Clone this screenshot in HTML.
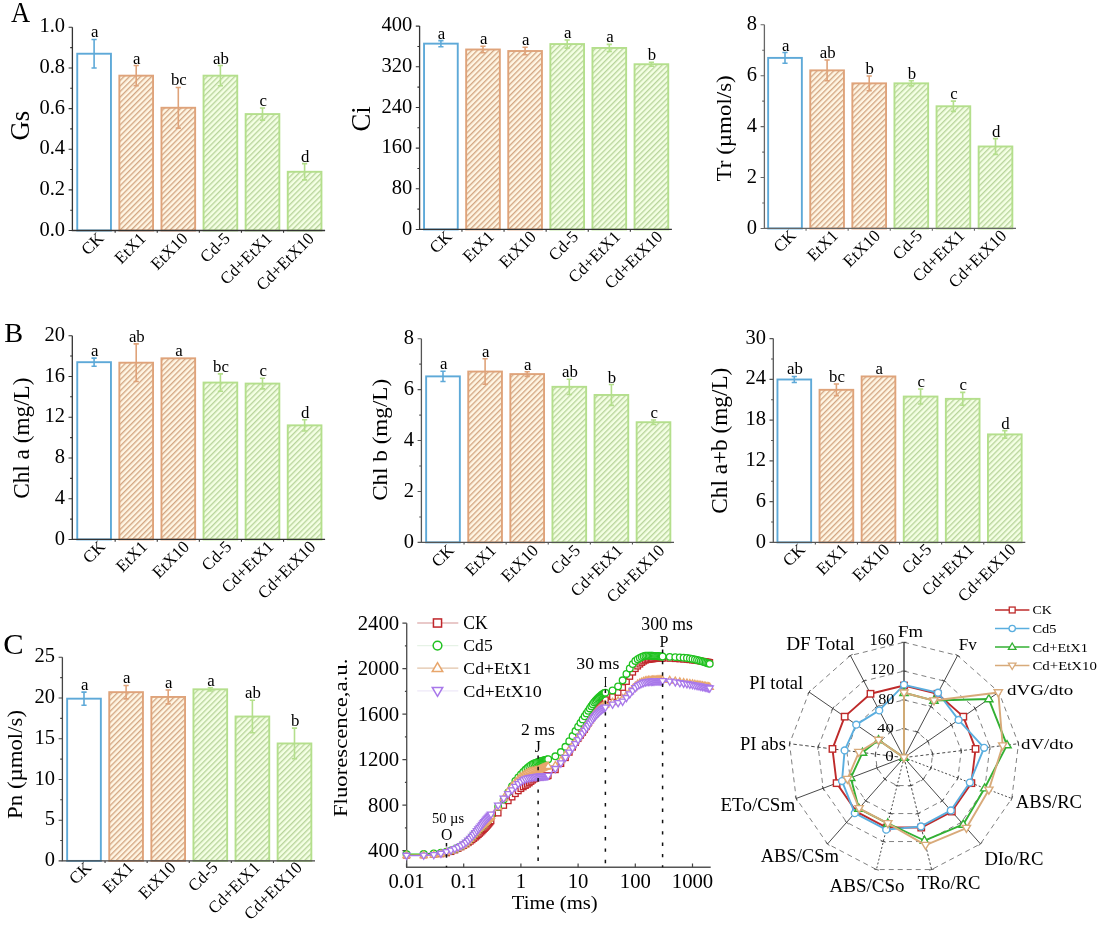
<!DOCTYPE html><html><head><meta charset="utf-8"><style>html,body{margin:0;padding:0;background:#fff;}svg{display:block;filter:blur(0.35px);}</style></head><body><svg width="1098" height="927" viewBox="0 0 1098 927" font-family="'Liberation Serif', serif">
<defs>
<pattern id="h_orange" patternUnits="userSpaceOnUse" width="3.92" height="10" patternTransform="rotate(45)"><rect x="0" y="0" width="1.35" height="10" fill="#D3A682"/></pattern>
<pattern id="h_green" patternUnits="userSpaceOnUse" width="3.92" height="10" patternTransform="rotate(45)"><rect x="0" y="0" width="1.35" height="10" fill="#B8D49B"/></pattern>
</defs>
<rect width="1098" height="927" fill="#fff"/>
<rect x="77.25" y="53.72" width="33.7" height="176.78" fill="none" stroke="#5EA9D8" stroke-width="1.9"/>
<path d="M94.1,39.49V67.94M91.5,39.49h5.2M91.5,67.94h5.2" stroke="#5EA9D8" stroke-width="1.6" fill="none"/>
<text transform="translate(94.7,37.49)" font-size="16.8" text-anchor="middle" fill="#000">a</text>
<text transform="translate(104.6,239.4) rotate(-45)" font-size="17" text-anchor="end" fill="#000">CK</text>
<rect x="119.35" y="75.66" width="33.7" height="154.84" fill="#FFF6E4"/>
<rect x="119.35" y="75.66" width="33.7" height="154.84" fill="url(#h_orange)"/>
<rect x="119.35" y="75.66" width="33.7" height="154.84" fill="none" stroke="#DFA37A" stroke-width="1.9"/>
<path d="M136.2,65.5V85.82M133.6,65.5h5.2M133.6,85.82h5.2" stroke="#DFA37A" stroke-width="1.6" fill="none"/>
<text transform="translate(136.8,63.5)" font-size="16.8" text-anchor="middle" fill="#000">a</text>
<text transform="translate(146.7,239.4) rotate(-45)" font-size="17" text-anchor="end" fill="#000">EtX1</text>
<rect x="161.45" y="107.77" width="33.7" height="122.73" fill="#FFF6E4"/>
<rect x="161.45" y="107.77" width="33.7" height="122.73" fill="url(#h_orange)"/>
<rect x="161.45" y="107.77" width="33.7" height="122.73" fill="none" stroke="#DFA37A" stroke-width="1.9"/>
<path d="M178.3,87.45V128.09M175.7,87.45h5.2M175.7,128.09h5.2" stroke="#DFA37A" stroke-width="1.6" fill="none"/>
<text transform="translate(178.9,85.45)" font-size="16.8" text-anchor="middle" fill="#000">bc</text>
<text transform="translate(188.8,239.4) rotate(-45)" font-size="17" text-anchor="end" fill="#000">EtX10</text>
<rect x="203.55" y="75.66" width="33.7" height="154.84" fill="#F4FFE4"/>
<rect x="203.55" y="75.66" width="33.7" height="154.84" fill="url(#h_green)"/>
<rect x="203.55" y="75.66" width="33.7" height="154.84" fill="none" stroke="#B4DF8C" stroke-width="1.9"/>
<path d="M220.4,65.5V85.82M217.8,65.5h5.2M217.8,85.82h5.2" stroke="#B4DF8C" stroke-width="1.6" fill="none"/>
<text transform="translate(221,63.5)" font-size="16.8" text-anchor="middle" fill="#000">ab</text>
<text transform="translate(230.9,239.4) rotate(-45)" font-size="17" text-anchor="end" fill="#000">Cd-5</text>
<rect x="245.65" y="114.07" width="33.7" height="116.43" fill="#F4FFE4"/>
<rect x="245.65" y="114.07" width="33.7" height="116.43" fill="url(#h_green)"/>
<rect x="245.65" y="114.07" width="33.7" height="116.43" fill="none" stroke="#B4DF8C" stroke-width="1.9"/>
<path d="M262.5,107.97V120.16M259.9,107.97h5.2M259.9,120.16h5.2" stroke="#B4DF8C" stroke-width="1.6" fill="none"/>
<text transform="translate(263.1,105.97)" font-size="16.8" text-anchor="middle" fill="#000">c</text>
<text transform="translate(273,239.4) rotate(-45)" font-size="17" text-anchor="end" fill="#000">Cd+EtX1</text>
<rect x="287.75" y="171.78" width="33.7" height="58.72" fill="#F4FFE4"/>
<rect x="287.75" y="171.78" width="33.7" height="58.72" fill="url(#h_green)"/>
<rect x="287.75" y="171.78" width="33.7" height="58.72" fill="none" stroke="#B4DF8C" stroke-width="1.9"/>
<path d="M304.6,163.65V179.9M302,163.65h5.2M302,179.9h5.2" stroke="#B4DF8C" stroke-width="1.6" fill="none"/>
<text transform="translate(305.2,161.65)" font-size="16.8" text-anchor="middle" fill="#000">d</text>
<text transform="translate(315.1,239.4) rotate(-45)" font-size="17" text-anchor="end" fill="#000">Cd+EtX10</text>
<path d="M72.4,27.3V230.5H325.1" stroke="#333" stroke-width="1.3" fill="none"/>
<text transform="translate(65,235.6)" font-size="20.5" text-anchor="end" fill="#000">0.0</text>
<text transform="translate(65,194.96)" font-size="20.5" text-anchor="end" fill="#000">0.2</text>
<text transform="translate(65,154.32)" font-size="20.5" text-anchor="end" fill="#000">0.4</text>
<text transform="translate(65,113.68)" font-size="20.5" text-anchor="end" fill="#000">0.6</text>
<text transform="translate(65,73.04)" font-size="20.5" text-anchor="end" fill="#000">0.8</text>
<text transform="translate(65,32.4)" font-size="20.5" text-anchor="end" fill="#000">1.0</text>
<path d="M68.6,230.5h3.8M70.2,210.18h2.2M68.6,189.86h3.8M70.2,169.54h2.2M68.6,149.22h3.8M70.2,128.9h2.2M68.6,108.58h3.8M70.2,88.26h2.2M68.6,67.94h3.8M70.2,47.62h2.2M68.6,27.3h3.8M115.15,230.5v2.2M157.25,230.5v2.2M199.35,230.5v2.2M241.45,230.5v2.2M283.55,230.5v2.2" stroke="#333" stroke-width="1.1" fill="none"/>
<rect x="424.05" y="43.64" width="33.7" height="185.81" fill="none" stroke="#5EA9D8" stroke-width="1.9"/>
<path d="M440.9,40.59V46.69M438.3,40.59h5.2M438.3,46.69h5.2" stroke="#5EA9D8" stroke-width="1.6" fill="none"/>
<text transform="translate(441.5,38.59)" font-size="16.8" text-anchor="middle" fill="#000">a</text>
<text transform="translate(452.9,237.65) rotate(-45)" font-size="17" text-anchor="end" fill="#000">CK</text>
<rect x="466.15" y="49.49" width="33.7" height="179.96" fill="#FFF6E4"/>
<rect x="466.15" y="49.49" width="33.7" height="179.96" fill="url(#h_orange)"/>
<rect x="466.15" y="49.49" width="33.7" height="179.96" fill="none" stroke="#DFA37A" stroke-width="1.9"/>
<path d="M483,46.18V52.79M480.4,46.18h5.2M480.4,52.79h5.2" stroke="#DFA37A" stroke-width="1.6" fill="none"/>
<text transform="translate(483.6,44.18)" font-size="16.8" text-anchor="middle" fill="#000">a</text>
<text transform="translate(495,237.65) rotate(-45)" font-size="17" text-anchor="end" fill="#000">EtX1</text>
<rect x="508.25" y="51.01" width="33.7" height="178.44" fill="#FFF6E4"/>
<rect x="508.25" y="51.01" width="33.7" height="178.44" fill="url(#h_orange)"/>
<rect x="508.25" y="51.01" width="33.7" height="178.44" fill="none" stroke="#DFA37A" stroke-width="1.9"/>
<path d="M525.1,47.2V54.82M522.5,47.2h5.2M522.5,54.82h5.2" stroke="#DFA37A" stroke-width="1.6" fill="none"/>
<text transform="translate(525.7,45.2)" font-size="16.8" text-anchor="middle" fill="#000">a</text>
<text transform="translate(537.1,237.65) rotate(-45)" font-size="17" text-anchor="end" fill="#000">EtX10</text>
<rect x="550.35" y="44.05" width="33.7" height="185.4" fill="#F4FFE4"/>
<rect x="550.35" y="44.05" width="33.7" height="185.4" fill="url(#h_green)"/>
<rect x="550.35" y="44.05" width="33.7" height="185.4" fill="none" stroke="#B4DF8C" stroke-width="1.9"/>
<path d="M567.2,39.98V48.11M564.6,39.98h5.2M564.6,48.11h5.2" stroke="#B4DF8C" stroke-width="1.6" fill="none"/>
<text transform="translate(567.8,37.98)" font-size="16.8" text-anchor="middle" fill="#000">a</text>
<text transform="translate(579.2,237.65) rotate(-45)" font-size="17" text-anchor="end" fill="#000">Cd-5</text>
<rect x="592.45" y="47.96" width="33.7" height="181.49" fill="#F4FFE4"/>
<rect x="592.45" y="47.96" width="33.7" height="181.49" fill="url(#h_green)"/>
<rect x="592.45" y="47.96" width="33.7" height="181.49" fill="none" stroke="#B4DF8C" stroke-width="1.9"/>
<path d="M609.3,44.4V51.52M606.7,44.4h5.2M606.7,51.52h5.2" stroke="#B4DF8C" stroke-width="1.6" fill="none"/>
<text transform="translate(609.9,42.4)" font-size="16.8" text-anchor="middle" fill="#000">a</text>
<text transform="translate(621.3,237.65) rotate(-45)" font-size="17" text-anchor="end" fill="#000">Cd+EtX1</text>
<rect x="634.55" y="64.23" width="33.7" height="165.22" fill="#F4FFE4"/>
<rect x="634.55" y="64.23" width="33.7" height="165.22" fill="url(#h_green)"/>
<rect x="634.55" y="64.23" width="33.7" height="165.22" fill="none" stroke="#B4DF8C" stroke-width="1.9"/>
<path d="M651.4,62.19V66.26M648.8,62.19h5.2M648.8,66.26h5.2" stroke="#B4DF8C" stroke-width="1.6" fill="none"/>
<text transform="translate(652,60.19)" font-size="16.8" text-anchor="middle" fill="#000">b</text>
<text transform="translate(663.4,237.65) rotate(-45)" font-size="17" text-anchor="end" fill="#000">Cd+EtX10</text>
<path d="M419.6,26.1V229.45H671.9" stroke="#333" stroke-width="1.3" fill="none"/>
<text transform="translate(412.2,234.55)" font-size="20.5" text-anchor="end" fill="#000">0</text>
<text transform="translate(412.2,193.88)" font-size="20.5" text-anchor="end" fill="#000">80</text>
<text transform="translate(412.2,153.21)" font-size="20.5" text-anchor="end" fill="#000">160</text>
<text transform="translate(412.2,112.54)" font-size="20.5" text-anchor="end" fill="#000">240</text>
<text transform="translate(412.2,71.87)" font-size="20.5" text-anchor="end" fill="#000">320</text>
<text transform="translate(412.2,31.2)" font-size="20.5" text-anchor="end" fill="#000">400</text>
<path d="M415.8,229.45h3.8M417.4,209.11h2.2M415.8,188.78h3.8M417.4,168.44h2.2M415.8,148.11h3.8M417.4,127.77h2.2M415.8,107.44h3.8M417.4,87.1h2.2M415.8,66.77h3.8M417.4,46.43h2.2M415.8,26.1h3.8M461.95,229.45v2.2M504.05,229.45v2.2M546.15,229.45v2.2M588.25,229.45v2.2M630.35,229.45v2.2" stroke="#333" stroke-width="1.1" fill="none"/>
<rect x="768.15" y="57.89" width="33.7" height="170.56" fill="none" stroke="#5EA9D8" stroke-width="1.9"/>
<path d="M785,52.55V63.24M782.4,52.55h5.2M782.4,63.24h5.2" stroke="#5EA9D8" stroke-width="1.6" fill="none"/>
<text transform="translate(785.6,50.55)" font-size="16.8" text-anchor="middle" fill="#000">a</text>
<text transform="translate(797,236.65) rotate(-45)" font-size="17" text-anchor="end" fill="#000">CK</text>
<rect x="810.25" y="70.37" width="33.7" height="158.08" fill="#FFF6E4"/>
<rect x="810.25" y="70.37" width="33.7" height="158.08" fill="url(#h_orange)"/>
<rect x="810.25" y="70.37" width="33.7" height="158.08" fill="none" stroke="#DFA37A" stroke-width="1.9"/>
<path d="M827.1,59.93V80.8M824.5,59.93h5.2M824.5,80.8h5.2" stroke="#DFA37A" stroke-width="1.6" fill="none"/>
<text transform="translate(827.7,57.93)" font-size="16.8" text-anchor="middle" fill="#000">ab</text>
<text transform="translate(839.1,236.65) rotate(-45)" font-size="17" text-anchor="end" fill="#000">EtX1</text>
<rect x="852.35" y="83.35" width="33.7" height="145.1" fill="#FFF6E4"/>
<rect x="852.35" y="83.35" width="33.7" height="145.1" fill="url(#h_orange)"/>
<rect x="852.35" y="83.35" width="33.7" height="145.1" fill="none" stroke="#DFA37A" stroke-width="1.9"/>
<path d="M869.2,75.97V90.73M866.6,75.97h5.2M866.6,90.73h5.2" stroke="#DFA37A" stroke-width="1.6" fill="none"/>
<text transform="translate(869.8,73.97)" font-size="16.8" text-anchor="middle" fill="#000">b</text>
<text transform="translate(881.2,236.65) rotate(-45)" font-size="17" text-anchor="end" fill="#000">EtX10</text>
<rect x="894.45" y="83.35" width="33.7" height="145.1" fill="#F4FFE4"/>
<rect x="894.45" y="83.35" width="33.7" height="145.1" fill="url(#h_green)"/>
<rect x="894.45" y="83.35" width="33.7" height="145.1" fill="none" stroke="#B4DF8C" stroke-width="1.9"/>
<path d="M911.3,80.8V85.89M908.7,80.8h5.2M908.7,85.89h5.2" stroke="#B4DF8C" stroke-width="1.6" fill="none"/>
<text transform="translate(911.9,78.8)" font-size="16.8" text-anchor="middle" fill="#000">b</text>
<text transform="translate(923.3,236.65) rotate(-45)" font-size="17" text-anchor="end" fill="#000">Cd-5</text>
<rect x="936.55" y="106.26" width="33.7" height="122.19" fill="#F4FFE4"/>
<rect x="936.55" y="106.26" width="33.7" height="122.19" fill="url(#h_green)"/>
<rect x="936.55" y="106.26" width="33.7" height="122.19" fill="none" stroke="#B4DF8C" stroke-width="1.9"/>
<path d="M953.4,101.17V111.35M950.8,101.17h5.2M950.8,111.35h5.2" stroke="#B4DF8C" stroke-width="1.6" fill="none"/>
<text transform="translate(954,99.17)" font-size="16.8" text-anchor="middle" fill="#000">c</text>
<text transform="translate(965.4,236.65) rotate(-45)" font-size="17" text-anchor="end" fill="#000">Cd+EtX1</text>
<rect x="978.65" y="146.48" width="33.7" height="81.97" fill="#F4FFE4"/>
<rect x="978.65" y="146.48" width="33.7" height="81.97" fill="url(#h_green)"/>
<rect x="978.65" y="146.48" width="33.7" height="81.97" fill="none" stroke="#B4DF8C" stroke-width="1.9"/>
<path d="M995.5,138.59V154.37M992.9,138.59h5.2M992.9,154.37h5.2" stroke="#B4DF8C" stroke-width="1.6" fill="none"/>
<text transform="translate(996.1,136.59)" font-size="16.8" text-anchor="middle" fill="#000">d</text>
<text transform="translate(1007.5,236.65) rotate(-45)" font-size="17" text-anchor="end" fill="#000">Cd+EtX10</text>
<path d="M764.4,24.8V228.45H1016" stroke="#666" stroke-width="1.3" fill="none"/>
<text transform="translate(757,233.55)" font-size="20.5" text-anchor="end" fill="#000">0</text>
<text transform="translate(757,182.64)" font-size="20.5" text-anchor="end" fill="#000">2</text>
<text transform="translate(757,131.72)" font-size="20.5" text-anchor="end" fill="#000">4</text>
<text transform="translate(757,80.81)" font-size="20.5" text-anchor="end" fill="#000">6</text>
<text transform="translate(757,29.9)" font-size="20.5" text-anchor="end" fill="#000">8</text>
<path d="M760.6,228.45h3.8M762.2,202.99h2.2M760.6,177.54h3.8M762.2,152.08h2.2M760.6,126.62h3.8M762.2,101.17h2.2M760.6,75.71h3.8M762.2,50.26h2.2M760.6,24.8h3.8M806.05,228.45v2.2M848.15,228.45v2.2M890.25,228.45v2.2M932.35,228.45v2.2M974.45,228.45v2.2" stroke="#666" stroke-width="1.1" fill="none"/>
<rect x="77.25" y="362.19" width="33.7" height="177.26" fill="none" stroke="#5EA9D8" stroke-width="1.9"/>
<path d="M94.1,358.11V366.26M91.5,358.11h5.2M91.5,366.26h5.2" stroke="#5EA9D8" stroke-width="1.6" fill="none"/>
<text transform="translate(94.7,356.11)" font-size="16.8" text-anchor="middle" fill="#000">a</text>
<text transform="translate(106.1,547.65) rotate(-45)" font-size="17" text-anchor="end" fill="#000">CK</text>
<rect x="119.35" y="362.7" width="33.7" height="176.75" fill="#FFF6E4"/>
<rect x="119.35" y="362.7" width="33.7" height="176.75" fill="url(#h_orange)"/>
<rect x="119.35" y="362.7" width="33.7" height="176.75" fill="none" stroke="#DFA37A" stroke-width="1.9"/>
<path d="M136.2,343.85V381.54M133.6,343.85h5.2M133.6,381.54h5.2" stroke="#DFA37A" stroke-width="1.6" fill="none"/>
<text transform="translate(136.8,341.85)" font-size="16.8" text-anchor="middle" fill="#000">ab</text>
<text transform="translate(148.2,547.65) rotate(-45)" font-size="17" text-anchor="end" fill="#000">EtX1</text>
<rect x="161.45" y="358.32" width="33.7" height="181.13" fill="#FFF6E4"/>
<rect x="161.45" y="358.32" width="33.7" height="181.13" fill="url(#h_orange)"/>
<rect x="161.45" y="358.32" width="33.7" height="181.13" fill="none" stroke="#DFA37A" stroke-width="1.9"/>
<text transform="translate(178.9,356.32)" font-size="16.8" text-anchor="middle" fill="#000">a</text>
<text transform="translate(190.3,547.65) rotate(-45)" font-size="17" text-anchor="end" fill="#000">EtX10</text>
<rect x="203.55" y="382.56" width="33.7" height="156.89" fill="#F4FFE4"/>
<rect x="203.55" y="382.56" width="33.7" height="156.89" fill="url(#h_green)"/>
<rect x="203.55" y="382.56" width="33.7" height="156.89" fill="none" stroke="#B4DF8C" stroke-width="1.9"/>
<path d="M220.4,373.9V391.22M217.8,373.9h5.2M217.8,391.22h5.2" stroke="#B4DF8C" stroke-width="1.6" fill="none"/>
<text transform="translate(221,371.9)" font-size="16.8" text-anchor="middle" fill="#000">bc</text>
<text transform="translate(232.4,547.65) rotate(-45)" font-size="17" text-anchor="end" fill="#000">Cd-5</text>
<rect x="245.65" y="383.58" width="33.7" height="155.87" fill="#F4FFE4"/>
<rect x="245.65" y="383.58" width="33.7" height="155.87" fill="url(#h_green)"/>
<rect x="245.65" y="383.58" width="33.7" height="155.87" fill="none" stroke="#B4DF8C" stroke-width="1.9"/>
<path d="M262.5,378.28V388.88M259.9,378.28h5.2M259.9,388.88h5.2" stroke="#B4DF8C" stroke-width="1.6" fill="none"/>
<text transform="translate(263.1,376.28)" font-size="16.8" text-anchor="middle" fill="#000">c</text>
<text transform="translate(274.5,547.65) rotate(-45)" font-size="17" text-anchor="end" fill="#000">Cd+EtX1</text>
<rect x="287.75" y="425.35" width="33.7" height="114.1" fill="#F4FFE4"/>
<rect x="287.75" y="425.35" width="33.7" height="114.1" fill="url(#h_green)"/>
<rect x="287.75" y="425.35" width="33.7" height="114.1" fill="none" stroke="#B4DF8C" stroke-width="1.9"/>
<path d="M304.6,419.75V430.95M302,419.75h5.2M302,430.95h5.2" stroke="#B4DF8C" stroke-width="1.6" fill="none"/>
<text transform="translate(305.2,417.75)" font-size="16.8" text-anchor="middle" fill="#000">d</text>
<text transform="translate(316.6,547.65) rotate(-45)" font-size="17" text-anchor="end" fill="#000">Cd+EtX10</text>
<path d="M72.3,335.7V539.45H325.1" stroke="#333" stroke-width="1.3" fill="none"/>
<text transform="translate(64.9,544.55)" font-size="20.5" text-anchor="end" fill="#000">0</text>
<text transform="translate(64.9,503.8)" font-size="20.5" text-anchor="end" fill="#000">4</text>
<text transform="translate(64.9,463.05)" font-size="20.5" text-anchor="end" fill="#000">8</text>
<text transform="translate(64.9,422.3)" font-size="20.5" text-anchor="end" fill="#000">12</text>
<text transform="translate(64.9,381.55)" font-size="20.5" text-anchor="end" fill="#000">16</text>
<text transform="translate(64.9,340.8)" font-size="20.5" text-anchor="end" fill="#000">20</text>
<path d="M68.5,539.45h3.8M70.1,519.08h2.2M68.5,498.7h3.8M70.1,478.33h2.2M68.5,457.95h3.8M70.1,437.58h2.2M68.5,417.2h3.8M70.1,396.82h2.2M68.5,376.45h3.8M70.1,356.07h2.2M68.5,335.7h3.8M115.15,539.45v2.2M157.25,539.45v2.2M199.35,539.45v2.2M241.45,539.45v2.2M283.55,539.45v2.2" stroke="#333" stroke-width="1.1" fill="none"/>
<rect x="426.15" y="376.38" width="33.7" height="166.02" fill="none" stroke="#5EA9D8" stroke-width="1.9"/>
<path d="M443,371.29V381.48M440.4,371.29h5.2M440.4,381.48h5.2" stroke="#5EA9D8" stroke-width="1.6" fill="none"/>
<text transform="translate(443.6,369.29)" font-size="16.8" text-anchor="middle" fill="#000">a</text>
<text transform="translate(455,551.4) rotate(-45)" font-size="17" text-anchor="end" fill="#000">CK</text>
<rect x="468.25" y="371.55" width="33.7" height="170.85" fill="#FFF6E4"/>
<rect x="468.25" y="371.55" width="33.7" height="170.85" fill="url(#h_orange)"/>
<rect x="468.25" y="371.55" width="33.7" height="170.85" fill="none" stroke="#DFA37A" stroke-width="1.9"/>
<path d="M485.1,358.82V384.28M482.5,358.82h5.2M482.5,384.28h5.2" stroke="#DFA37A" stroke-width="1.6" fill="none"/>
<text transform="translate(485.7,356.82)" font-size="16.8" text-anchor="middle" fill="#000">a</text>
<text transform="translate(497.1,551.4) rotate(-45)" font-size="17" text-anchor="end" fill="#000">EtX1</text>
<rect x="510.35" y="374.09" width="33.7" height="168.31" fill="#FFF6E4"/>
<rect x="510.35" y="374.09" width="33.7" height="168.31" fill="url(#h_orange)"/>
<rect x="510.35" y="374.09" width="33.7" height="168.31" fill="none" stroke="#DFA37A" stroke-width="1.9"/>
<path d="M527.2,371.8V376.38M524.6,371.8h5.2M524.6,376.38h5.2" stroke="#DFA37A" stroke-width="1.6" fill="none"/>
<text transform="translate(527.8,369.8)" font-size="16.8" text-anchor="middle" fill="#000">a</text>
<text transform="translate(539.2,551.4) rotate(-45)" font-size="17" text-anchor="end" fill="#000">EtX10</text>
<rect x="552.45" y="386.82" width="33.7" height="155.58" fill="#F4FFE4"/>
<rect x="552.45" y="386.82" width="33.7" height="155.58" fill="url(#h_green)"/>
<rect x="552.45" y="386.82" width="33.7" height="155.58" fill="none" stroke="#B4DF8C" stroke-width="1.9"/>
<path d="M569.3,379.19V394.46M566.7,379.19h5.2M566.7,394.46h5.2" stroke="#B4DF8C" stroke-width="1.6" fill="none"/>
<text transform="translate(569.9,377.19)" font-size="16.8" text-anchor="middle" fill="#000">ab</text>
<text transform="translate(581.3,551.4) rotate(-45)" font-size="17" text-anchor="end" fill="#000">Cd-5</text>
<rect x="594.55" y="394.97" width="33.7" height="147.43" fill="#F4FFE4"/>
<rect x="594.55" y="394.97" width="33.7" height="147.43" fill="url(#h_green)"/>
<rect x="594.55" y="394.97" width="33.7" height="147.43" fill="none" stroke="#B4DF8C" stroke-width="1.9"/>
<path d="M611.4,384.53V405.41M608.8,384.53h5.2M608.8,405.41h5.2" stroke="#B4DF8C" stroke-width="1.6" fill="none"/>
<text transform="translate(612,382.53)" font-size="16.8" text-anchor="middle" fill="#000">b</text>
<text transform="translate(623.4,551.4) rotate(-45)" font-size="17" text-anchor="end" fill="#000">Cd+EtX1</text>
<rect x="636.65" y="422.22" width="33.7" height="120.18" fill="#F4FFE4"/>
<rect x="636.65" y="422.22" width="33.7" height="120.18" fill="url(#h_green)"/>
<rect x="636.65" y="422.22" width="33.7" height="120.18" fill="none" stroke="#B4DF8C" stroke-width="1.9"/>
<path d="M653.5,419.93V424.51M650.9,419.93h5.2M650.9,424.51h5.2" stroke="#B4DF8C" stroke-width="1.6" fill="none"/>
<text transform="translate(654.1,417.93)" font-size="16.8" text-anchor="middle" fill="#000">c</text>
<text transform="translate(665.5,551.4) rotate(-45)" font-size="17" text-anchor="end" fill="#000">Cd+EtX10</text>
<path d="M421.4,338.7V542.4H674" stroke="#555" stroke-width="1.3" fill="none"/>
<text transform="translate(414,547.5)" font-size="20.5" text-anchor="end" fill="#000">0</text>
<text transform="translate(414,496.57)" font-size="20.5" text-anchor="end" fill="#000">2</text>
<text transform="translate(414,445.65)" font-size="20.5" text-anchor="end" fill="#000">4</text>
<text transform="translate(414,394.73)" font-size="20.5" text-anchor="end" fill="#000">6</text>
<text transform="translate(414,343.8)" font-size="20.5" text-anchor="end" fill="#000">8</text>
<path d="M417.6,542.4h3.8M419.2,516.94h2.2M417.6,491.47h3.8M419.2,466.01h2.2M417.6,440.55h3.8M419.2,415.09h2.2M417.6,389.62h3.8M419.2,364.16h2.2M417.6,338.7h3.8M464.05,542.4v2.2M506.15,542.4v2.2M548.25,542.4v2.2M590.35,542.4v2.2M632.45,542.4v2.2" stroke="#555" stroke-width="1.1" fill="none"/>
<rect x="777.45" y="379.5" width="33.7" height="162.9" fill="none" stroke="#5EA9D8" stroke-width="1.9"/>
<path d="M794.3,376.44V382.55M791.7,376.44h5.2M791.7,382.55h5.2" stroke="#5EA9D8" stroke-width="1.6" fill="none"/>
<text transform="translate(794.9,374.44)" font-size="16.8" text-anchor="middle" fill="#000">ab</text>
<text transform="translate(806.3,550.6) rotate(-45)" font-size="17" text-anchor="end" fill="#000">CK</text>
<rect x="819.55" y="389.82" width="33.7" height="152.58" fill="#FFF6E4"/>
<rect x="819.55" y="389.82" width="33.7" height="152.58" fill="url(#h_orange)"/>
<rect x="819.55" y="389.82" width="33.7" height="152.58" fill="none" stroke="#DFA37A" stroke-width="1.9"/>
<path d="M836.4,384.05V395.6M833.8,384.05h5.2M833.8,395.6h5.2" stroke="#DFA37A" stroke-width="1.6" fill="none"/>
<text transform="translate(837,382.05)" font-size="16.8" text-anchor="middle" fill="#000">bc</text>
<text transform="translate(848.4,550.6) rotate(-45)" font-size="17" text-anchor="end" fill="#000">EtX1</text>
<rect x="861.65" y="376.44" width="33.7" height="165.96" fill="#FFF6E4"/>
<rect x="861.65" y="376.44" width="33.7" height="165.96" fill="url(#h_orange)"/>
<rect x="861.65" y="376.44" width="33.7" height="165.96" fill="none" stroke="#DFA37A" stroke-width="1.9"/>
<text transform="translate(879.1,374.44)" font-size="16.8" text-anchor="middle" fill="#000">a</text>
<text transform="translate(890.5,550.6) rotate(-45)" font-size="17" text-anchor="end" fill="#000">EtX10</text>
<rect x="903.75" y="396.55" width="33.7" height="145.85" fill="#F4FFE4"/>
<rect x="903.75" y="396.55" width="33.7" height="145.85" fill="url(#h_green)"/>
<rect x="903.75" y="396.55" width="33.7" height="145.85" fill="none" stroke="#B4DF8C" stroke-width="1.9"/>
<path d="M920.6,389.07V404.02M918,389.07h5.2M918,404.02h5.2" stroke="#B4DF8C" stroke-width="1.6" fill="none"/>
<text transform="translate(921.2,387.07)" font-size="16.8" text-anchor="middle" fill="#000">c</text>
<text transform="translate(932.6,550.6) rotate(-45)" font-size="17" text-anchor="end" fill="#000">Cd-5</text>
<rect x="945.85" y="398.86" width="33.7" height="143.54" fill="#F4FFE4"/>
<rect x="945.85" y="398.86" width="33.7" height="143.54" fill="url(#h_green)"/>
<rect x="945.85" y="398.86" width="33.7" height="143.54" fill="none" stroke="#B4DF8C" stroke-width="1.9"/>
<path d="M962.7,392.4V405.31M960.1,392.4h5.2M960.1,405.31h5.2" stroke="#B4DF8C" stroke-width="1.6" fill="none"/>
<text transform="translate(963.3,390.4)" font-size="16.8" text-anchor="middle" fill="#000">c</text>
<text transform="translate(974.7,550.6) rotate(-45)" font-size="17" text-anchor="end" fill="#000">Cd+EtX1</text>
<rect x="987.95" y="434.39" width="33.7" height="108.01" fill="#F4FFE4"/>
<rect x="987.95" y="434.39" width="33.7" height="108.01" fill="url(#h_green)"/>
<rect x="987.95" y="434.39" width="33.7" height="108.01" fill="none" stroke="#B4DF8C" stroke-width="1.9"/>
<path d="M1004.8,430.65V438.12M1002.2,430.65h5.2M1002.2,438.12h5.2" stroke="#B4DF8C" stroke-width="1.6" fill="none"/>
<text transform="translate(1005.4,428.65)" font-size="16.8" text-anchor="middle" fill="#000">d</text>
<text transform="translate(1016.8,550.6) rotate(-45)" font-size="17" text-anchor="end" fill="#000">Cd+EtX10</text>
<path d="M773.3,338.6V542.4H1025.3" stroke="#555" stroke-width="1.3" fill="none"/>
<text transform="translate(765.9,547.5)" font-size="20.5" text-anchor="end" fill="#000">0</text>
<text transform="translate(765.9,506.74)" font-size="20.5" text-anchor="end" fill="#000">6</text>
<text transform="translate(765.9,465.98)" font-size="20.5" text-anchor="end" fill="#000">12</text>
<text transform="translate(765.9,425.22)" font-size="20.5" text-anchor="end" fill="#000">18</text>
<text transform="translate(765.9,384.46)" font-size="20.5" text-anchor="end" fill="#000">24</text>
<text transform="translate(765.9,343.7)" font-size="20.5" text-anchor="end" fill="#000">30</text>
<path d="M769.5,542.4h3.8M771.1,522.02h2.2M769.5,501.64h3.8M771.1,481.26h2.2M769.5,460.88h3.8M771.1,440.5h2.2M769.5,420.12h3.8M771.1,399.74h2.2M769.5,379.36h3.8M771.1,358.98h2.2M769.5,338.6h3.8M815.35,542.4v2.2M857.45,542.4v2.2M899.55,542.4v2.2M941.65,542.4v2.2M983.75,542.4v2.2" stroke="#555" stroke-width="1.1" fill="none"/>
<rect x="67.15" y="698.67" width="33.7" height="162.23" fill="none" stroke="#5EA9D8" stroke-width="1.9"/>
<path d="M84,692.16V705.19M81.4,692.16h5.2M81.4,705.19h5.2" stroke="#5EA9D8" stroke-width="1.6" fill="none"/>
<text transform="translate(84.6,690.16)" font-size="16.8" text-anchor="middle" fill="#000">a</text>
<text transform="translate(92.5,868.5) rotate(-45)" font-size="17" text-anchor="end" fill="#000">CK</text>
<rect x="109.25" y="692.16" width="33.7" height="168.74" fill="#FFF6E4"/>
<rect x="109.25" y="692.16" width="33.7" height="168.74" fill="url(#h_orange)"/>
<rect x="109.25" y="692.16" width="33.7" height="168.74" fill="none" stroke="#DFA37A" stroke-width="1.9"/>
<path d="M126.1,685.48V698.83M123.5,685.48h5.2M123.5,698.83h5.2" stroke="#DFA37A" stroke-width="1.6" fill="none"/>
<text transform="translate(126.7,683.48)" font-size="16.8" text-anchor="middle" fill="#000">a</text>
<text transform="translate(134.6,868.5) rotate(-45)" font-size="17" text-anchor="end" fill="#000">EtX1</text>
<rect x="151.35" y="696.96" width="33.7" height="163.94" fill="#FFF6E4"/>
<rect x="151.35" y="696.96" width="33.7" height="163.94" fill="url(#h_orange)"/>
<rect x="151.35" y="696.96" width="33.7" height="163.94" fill="none" stroke="#DFA37A" stroke-width="1.9"/>
<path d="M168.2,690.04V703.88M165.6,690.04h5.2M165.6,703.88h5.2" stroke="#DFA37A" stroke-width="1.6" fill="none"/>
<text transform="translate(168.8,688.04)" font-size="16.8" text-anchor="middle" fill="#000">a</text>
<text transform="translate(176.7,868.5) rotate(-45)" font-size="17" text-anchor="end" fill="#000">EtX10</text>
<rect x="193.45" y="689.31" width="33.7" height="171.59" fill="#F4FFE4"/>
<rect x="193.45" y="689.31" width="33.7" height="171.59" fill="url(#h_green)"/>
<rect x="193.45" y="689.31" width="33.7" height="171.59" fill="none" stroke="#B4DF8C" stroke-width="1.9"/>
<path d="M210.3,687.68V690.93M207.7,687.68h5.2M207.7,690.93h5.2" stroke="#B4DF8C" stroke-width="1.6" fill="none"/>
<text transform="translate(210.9,685.68)" font-size="16.8" text-anchor="middle" fill="#000">a</text>
<text transform="translate(218.8,868.5) rotate(-45)" font-size="17" text-anchor="end" fill="#000">Cd-5</text>
<rect x="235.55" y="716.51" width="33.7" height="144.39" fill="#F4FFE4"/>
<rect x="235.55" y="716.51" width="33.7" height="144.39" fill="url(#h_green)"/>
<rect x="235.55" y="716.51" width="33.7" height="144.39" fill="none" stroke="#B4DF8C" stroke-width="1.9"/>
<path d="M252.4,700.22V732.79M249.8,700.22h5.2M249.8,732.79h5.2" stroke="#B4DF8C" stroke-width="1.6" fill="none"/>
<text transform="translate(253,698.22)" font-size="16.8" text-anchor="middle" fill="#000">ab</text>
<text transform="translate(260.9,868.5) rotate(-45)" font-size="17" text-anchor="end" fill="#000">Cd+EtX1</text>
<rect x="277.65" y="743.46" width="33.7" height="117.44" fill="#F4FFE4"/>
<rect x="277.65" y="743.46" width="33.7" height="117.44" fill="url(#h_green)"/>
<rect x="277.65" y="743.46" width="33.7" height="117.44" fill="none" stroke="#B4DF8C" stroke-width="1.9"/>
<path d="M294.5,728.15V758.77M291.9,728.15h5.2M291.9,758.77h5.2" stroke="#B4DF8C" stroke-width="1.6" fill="none"/>
<text transform="translate(295.1,726.15)" font-size="16.8" text-anchor="middle" fill="#000">b</text>
<text transform="translate(303,868.5) rotate(-45)" font-size="17" text-anchor="end" fill="#000">Cd+EtX10</text>
<path d="M62.4,657.3V860.9H315" stroke="#444" stroke-width="1.3" fill="none"/>
<text transform="translate(55,866)" font-size="20.5" text-anchor="end" fill="#000">0</text>
<text transform="translate(55,825.28)" font-size="20.5" text-anchor="end" fill="#000">5</text>
<text transform="translate(55,784.56)" font-size="20.5" text-anchor="end" fill="#000">10</text>
<text transform="translate(55,743.84)" font-size="20.5" text-anchor="end" fill="#000">15</text>
<text transform="translate(55,703.12)" font-size="20.5" text-anchor="end" fill="#000">20</text>
<text transform="translate(55,662.4)" font-size="20.5" text-anchor="end" fill="#000">25</text>
<path d="M58.6,860.9h3.8M60.2,840.54h2.2M58.6,820.18h3.8M60.2,799.82h2.2M58.6,779.46h3.8M60.2,759.1h2.2M58.6,738.74h3.8M60.2,718.38h2.2M58.6,698.02h3.8M60.2,677.66h2.2M58.6,657.3h3.8M105.05,860.9v2.2M147.15,860.9v2.2M189.25,860.9v2.2M231.35,860.9v2.2M273.45,860.9v2.2" stroke="#444" stroke-width="1.1" fill="none"/>
<text transform="translate(29.17,140.52) rotate(-90) scale(0.2667,0.2821)" font-size="100" fill="#000">Gs</text>
<text transform="translate(370.07,131.62) rotate(-90) scale(0.2678,0.2836)" font-size="100" fill="#000">Ci</text>
<text transform="translate(730.92,181.51) rotate(-90) scale(0.2300,0.2198)" font-size="100" fill="#000">Tr (µmol/s)</text>
<text transform="translate(29.03,498.78) rotate(-90) scale(0.2325,0.2242)" font-size="100" fill="#000">Chl a (mg/L)</text>
<text transform="translate(387.25,500.87) rotate(-90) scale(0.2312,0.2187)" font-size="100" fill="#000">Chl b (mg/L)</text>
<text transform="translate(727.21,513.68) rotate(-90) scale(0.2324,0.2253)" font-size="100" fill="#000">Chl a+b (mg/L)</text>
<text transform="translate(21.70,818.94) rotate(-90) scale(0.2285,0.2165)" font-size="100" fill="#000">Pn (µmol/s)</text>
<text transform="translate(11.08,21.55) scale(0.2652,0.3045)" font-size="100" fill="#000">A</text>
<text transform="translate(4.20,341.71) scale(0.2831,0.2818)" font-size="100" fill="#000">B</text>
<text transform="translate(3.33,654.25) scale(0.3053,0.3045)" font-size="100" fill="#000">C</text>
<path d="M406.7,623.20V867.2H710.7" stroke="#555" stroke-width="1.4" fill="none"/>
<text transform="translate(399.1,857)" font-size="20.7" text-anchor="end" fill="#000">400</text>
<text transform="translate(399.1,811.52)" font-size="20.7" text-anchor="end" fill="#000">800</text>
<text transform="translate(399.1,766.04)" font-size="20.7" text-anchor="end" fill="#000">1200</text>
<text transform="translate(399.1,720.56)" font-size="20.7" text-anchor="end" fill="#000">1600</text>
<text transform="translate(399.1,675.08)" font-size="20.7" text-anchor="end" fill="#000">2000</text>
<text transform="translate(399.1,629.6)" font-size="20.7" text-anchor="end" fill="#000">2400</text>
<text transform="translate(406.5,887.6)" font-size="20.7" text-anchor="middle" fill="#000">0.01</text>
<text transform="translate(463.7,887.6)" font-size="20.7" text-anchor="middle" fill="#000">0.1</text>
<text transform="translate(520.9,887.6)" font-size="20.7" text-anchor="middle" fill="#000">1</text>
<text transform="translate(578.1,887.6)" font-size="20.7" text-anchor="middle" fill="#000">10</text>
<text transform="translate(635.3,887.6)" font-size="20.7" text-anchor="middle" fill="#000">100</text>
<text transform="translate(692.5,887.6)" font-size="20.7" text-anchor="middle" fill="#000">1000</text>
<path d="M402.4,850.60h4.3M404.9,827.86h1.8M402.4,805.12h4.3M404.9,782.38h1.8M402.4,759.64h4.3M404.9,736.90h1.8M402.4,714.16h4.3M404.9,691.42h1.8M402.4,668.68h4.3M404.9,645.94h1.8M402.4,623.20h4.3M406.50,867.2v-3.6M463.70,867.2v-3.6M520.90,867.2v-3.6M578.10,867.2v-3.6M635.30,867.2v-3.6M692.50,867.2v-3.6" stroke="#444" stroke-width="1.2" fill="none"/>
<text transform="translate(511.74,909.14) scale(0.2068,0.1912)" font-size="100" fill="#000">Time (ms)</text>
<text transform="translate(346.97,817.03) rotate(-90) scale(0.2273,0.1988)" font-size="100" fill="#000">Fluorescence,a.u.</text>
<polyline points="406.50,855.15 423.72,854.92 433.79,854.54 440.94,853.86 446.48,852.89 451.01,851.60 454.84,850.04 458.16,848.44 461.08,846.91 463.70,845.48 466.07,844.09 468.23,842.66 470.22,841.23 472.06,839.83 473.77,838.46 475.38,837.15 476.88,835.88 478.30,834.61 479.64,833.35 480.92,832.11 482.13,830.89 483.29,829.69 484.39,828.52 485.45,827.39 486.46,826.28 487.44,825.19 488.37,824.07 489.28,822.96 490.15,821.87 490.99,820.82 498.14,813.06 503.68,805.42 508.21,800.78 512.04,797.04 515.36,793.66 518.28,790.85 520.90,788.63 523.27,786.88 525.43,785.50 527.42,784.25 529.26,782.93 530.97,781.47 532.58,780.10 534.08,779.00 535.50,778.28 536.84,777.77 538.12,777.36 539.33,777.04 540.49,776.78 541.59,776.58 542.65,776.44 543.66,776.34 544.64,776.25 545.57,776.15 546.48,776.03 547.35,775.88 548.19,775.67 555.34,769.76 560.88,763.59 565.41,757.68 569.24,752.31 572.56,747.16 575.48,742.55 578.10,738.61 580.47,735.34 582.63,732.39 584.62,729.40 586.46,726.31 588.17,723.33 589.78,720.58 591.28,717.96 592.70,715.46 594.04,713.20 595.32,711.23 596.53,709.50 597.69,707.92 598.79,706.49 599.85,705.21 600.86,704.06 601.84,702.99 602.77,701.99 603.68,701.09 604.55,700.32 605.39,699.71 612.54,696.70 618.08,692.46 622.61,687.49 626.44,681.51 629.76,676.39 632.68,672.19 635.30,668.65 637.67,666.11 639.83,664.16 641.82,662.48 643.66,661.14 645.37,660.19 646.98,659.65 648.48,659.40 649.90,659.18 651.24,659.00 652.52,658.84 653.73,658.71 654.89,658.59 655.99,658.50 657.05,658.42 658.06,658.36 659.04,658.31 659.97,658.27 660.88,658.24 661.75,658.23 662.59,658.22 669.74,658.38 675.28,658.66 679.81,658.94 683.64,659.19 686.96,659.46 689.88,659.74 692.50,660.02 694.87,660.29 697.03,660.56 699.02,660.82 700.86,661.07 702.57,661.32 704.18,661.56 705.68,661.79 707.10,662.01 708.44,662.23 709.72,662.44" fill="none" stroke="#C0262B" stroke-width="1.3"/>
<g><rect x="403.70" y="852.35" width="5.60" height="5.60" fill="#fff" stroke="#C0262B" stroke-width="1.3"/><rect x="420.92" y="852.12" width="5.60" height="5.60" fill="#fff" stroke="#C0262B" stroke-width="1.3"/><rect x="430.99" y="851.74" width="5.60" height="5.60" fill="#fff" stroke="#C0262B" stroke-width="1.3"/><rect x="438.14" y="851.06" width="5.60" height="5.60" fill="#fff" stroke="#C0262B" stroke-width="1.3"/><rect x="443.68" y="850.09" width="5.60" height="5.60" fill="#fff" stroke="#C0262B" stroke-width="1.3"/><rect x="448.21" y="848.80" width="5.60" height="5.60" fill="#fff" stroke="#C0262B" stroke-width="1.3"/><rect x="452.04" y="847.24" width="5.60" height="5.60" fill="#fff" stroke="#C0262B" stroke-width="1.3"/><rect x="455.36" y="845.64" width="5.60" height="5.60" fill="#fff" stroke="#C0262B" stroke-width="1.3"/><rect x="458.28" y="844.11" width="5.60" height="5.60" fill="#fff" stroke="#C0262B" stroke-width="1.3"/><rect x="460.90" y="842.68" width="5.60" height="5.60" fill="#fff" stroke="#C0262B" stroke-width="1.3"/><rect x="463.27" y="841.29" width="5.60" height="5.60" fill="#fff" stroke="#C0262B" stroke-width="1.3"/><rect x="465.43" y="839.86" width="5.60" height="5.60" fill="#fff" stroke="#C0262B" stroke-width="1.3"/><rect x="467.42" y="838.43" width="5.60" height="5.60" fill="#fff" stroke="#C0262B" stroke-width="1.3"/><rect x="469.26" y="837.03" width="5.60" height="5.60" fill="#fff" stroke="#C0262B" stroke-width="1.3"/><rect x="470.97" y="835.66" width="5.60" height="5.60" fill="#fff" stroke="#C0262B" stroke-width="1.3"/><rect x="472.58" y="834.35" width="5.60" height="5.60" fill="#fff" stroke="#C0262B" stroke-width="1.3"/><rect x="474.08" y="833.08" width="5.60" height="5.60" fill="#fff" stroke="#C0262B" stroke-width="1.3"/><rect x="475.50" y="831.81" width="5.60" height="5.60" fill="#fff" stroke="#C0262B" stroke-width="1.3"/><rect x="476.84" y="830.55" width="5.60" height="5.60" fill="#fff" stroke="#C0262B" stroke-width="1.3"/><rect x="478.12" y="829.31" width="5.60" height="5.60" fill="#fff" stroke="#C0262B" stroke-width="1.3"/><rect x="479.33" y="828.09" width="5.60" height="5.60" fill="#fff" stroke="#C0262B" stroke-width="1.3"/><rect x="480.49" y="826.89" width="5.60" height="5.60" fill="#fff" stroke="#C0262B" stroke-width="1.3"/><rect x="481.59" y="825.72" width="5.60" height="5.60" fill="#fff" stroke="#C0262B" stroke-width="1.3"/><rect x="482.65" y="824.59" width="5.60" height="5.60" fill="#fff" stroke="#C0262B" stroke-width="1.3"/><rect x="483.66" y="823.48" width="5.60" height="5.60" fill="#fff" stroke="#C0262B" stroke-width="1.3"/><rect x="484.64" y="822.39" width="5.60" height="5.60" fill="#fff" stroke="#C0262B" stroke-width="1.3"/><rect x="485.57" y="821.27" width="5.60" height="5.60" fill="#fff" stroke="#C0262B" stroke-width="1.3"/><rect x="486.48" y="820.16" width="5.60" height="5.60" fill="#fff" stroke="#C0262B" stroke-width="1.3"/><rect x="487.35" y="819.07" width="5.60" height="5.60" fill="#fff" stroke="#C0262B" stroke-width="1.3"/><rect x="488.19" y="818.02" width="5.60" height="5.60" fill="#fff" stroke="#C0262B" stroke-width="1.3"/><rect x="495.34" y="810.26" width="5.60" height="5.60" fill="#fff" stroke="#C0262B" stroke-width="1.3"/><rect x="500.88" y="802.62" width="5.60" height="5.60" fill="#fff" stroke="#C0262B" stroke-width="1.3"/><rect x="505.41" y="797.98" width="5.60" height="5.60" fill="#fff" stroke="#C0262B" stroke-width="1.3"/><rect x="509.24" y="794.24" width="5.60" height="5.60" fill="#fff" stroke="#C0262B" stroke-width="1.3"/><rect x="512.56" y="790.86" width="5.60" height="5.60" fill="#fff" stroke="#C0262B" stroke-width="1.3"/><rect x="515.48" y="788.05" width="5.60" height="5.60" fill="#fff" stroke="#C0262B" stroke-width="1.3"/><rect x="518.10" y="785.83" width="5.60" height="5.60" fill="#fff" stroke="#C0262B" stroke-width="1.3"/><rect x="520.47" y="784.08" width="5.60" height="5.60" fill="#fff" stroke="#C0262B" stroke-width="1.3"/><rect x="522.63" y="782.70" width="5.60" height="5.60" fill="#fff" stroke="#C0262B" stroke-width="1.3"/><rect x="524.62" y="781.45" width="5.60" height="5.60" fill="#fff" stroke="#C0262B" stroke-width="1.3"/><rect x="526.46" y="780.13" width="5.60" height="5.60" fill="#fff" stroke="#C0262B" stroke-width="1.3"/><rect x="528.17" y="778.67" width="5.60" height="5.60" fill="#fff" stroke="#C0262B" stroke-width="1.3"/><rect x="529.78" y="777.30" width="5.60" height="5.60" fill="#fff" stroke="#C0262B" stroke-width="1.3"/><rect x="531.28" y="776.20" width="5.60" height="5.60" fill="#fff" stroke="#C0262B" stroke-width="1.3"/><rect x="532.70" y="775.48" width="5.60" height="5.60" fill="#fff" stroke="#C0262B" stroke-width="1.3"/><rect x="534.04" y="774.97" width="5.60" height="5.60" fill="#fff" stroke="#C0262B" stroke-width="1.3"/><rect x="535.32" y="774.56" width="5.60" height="5.60" fill="#fff" stroke="#C0262B" stroke-width="1.3"/><rect x="536.53" y="774.24" width="5.60" height="5.60" fill="#fff" stroke="#C0262B" stroke-width="1.3"/><rect x="537.69" y="773.98" width="5.60" height="5.60" fill="#fff" stroke="#C0262B" stroke-width="1.3"/><rect x="538.79" y="773.78" width="5.60" height="5.60" fill="#fff" stroke="#C0262B" stroke-width="1.3"/><rect x="539.85" y="773.64" width="5.60" height="5.60" fill="#fff" stroke="#C0262B" stroke-width="1.3"/><rect x="540.86" y="773.54" width="5.60" height="5.60" fill="#fff" stroke="#C0262B" stroke-width="1.3"/><rect x="541.84" y="773.45" width="5.60" height="5.60" fill="#fff" stroke="#C0262B" stroke-width="1.3"/><rect x="542.77" y="773.35" width="5.60" height="5.60" fill="#fff" stroke="#C0262B" stroke-width="1.3"/><rect x="543.68" y="773.23" width="5.60" height="5.60" fill="#fff" stroke="#C0262B" stroke-width="1.3"/><rect x="544.55" y="773.08" width="5.60" height="5.60" fill="#fff" stroke="#C0262B" stroke-width="1.3"/><rect x="545.39" y="772.87" width="5.60" height="5.60" fill="#fff" stroke="#C0262B" stroke-width="1.3"/><rect x="552.54" y="766.96" width="5.60" height="5.60" fill="#fff" stroke="#C0262B" stroke-width="1.3"/><rect x="558.08" y="760.79" width="5.60" height="5.60" fill="#fff" stroke="#C0262B" stroke-width="1.3"/><rect x="562.61" y="754.88" width="5.60" height="5.60" fill="#fff" stroke="#C0262B" stroke-width="1.3"/><rect x="566.44" y="749.51" width="5.60" height="5.60" fill="#fff" stroke="#C0262B" stroke-width="1.3"/><rect x="569.76" y="744.36" width="5.60" height="5.60" fill="#fff" stroke="#C0262B" stroke-width="1.3"/><rect x="572.68" y="739.75" width="5.60" height="5.60" fill="#fff" stroke="#C0262B" stroke-width="1.3"/><rect x="575.30" y="735.81" width="5.60" height="5.60" fill="#fff" stroke="#C0262B" stroke-width="1.3"/><rect x="577.67" y="732.54" width="5.60" height="5.60" fill="#fff" stroke="#C0262B" stroke-width="1.3"/><rect x="579.83" y="729.59" width="5.60" height="5.60" fill="#fff" stroke="#C0262B" stroke-width="1.3"/><rect x="581.82" y="726.60" width="5.60" height="5.60" fill="#fff" stroke="#C0262B" stroke-width="1.3"/><rect x="583.66" y="723.51" width="5.60" height="5.60" fill="#fff" stroke="#C0262B" stroke-width="1.3"/><rect x="585.37" y="720.53" width="5.60" height="5.60" fill="#fff" stroke="#C0262B" stroke-width="1.3"/><rect x="586.98" y="717.78" width="5.60" height="5.60" fill="#fff" stroke="#C0262B" stroke-width="1.3"/><rect x="588.48" y="715.16" width="5.60" height="5.60" fill="#fff" stroke="#C0262B" stroke-width="1.3"/><rect x="589.90" y="712.66" width="5.60" height="5.60" fill="#fff" stroke="#C0262B" stroke-width="1.3"/><rect x="591.24" y="710.40" width="5.60" height="5.60" fill="#fff" stroke="#C0262B" stroke-width="1.3"/><rect x="592.52" y="708.43" width="5.60" height="5.60" fill="#fff" stroke="#C0262B" stroke-width="1.3"/><rect x="593.73" y="706.70" width="5.60" height="5.60" fill="#fff" stroke="#C0262B" stroke-width="1.3"/><rect x="594.89" y="705.12" width="5.60" height="5.60" fill="#fff" stroke="#C0262B" stroke-width="1.3"/><rect x="595.99" y="703.69" width="5.60" height="5.60" fill="#fff" stroke="#C0262B" stroke-width="1.3"/><rect x="597.05" y="702.41" width="5.60" height="5.60" fill="#fff" stroke="#C0262B" stroke-width="1.3"/><rect x="598.06" y="701.26" width="5.60" height="5.60" fill="#fff" stroke="#C0262B" stroke-width="1.3"/><rect x="599.04" y="700.19" width="5.60" height="5.60" fill="#fff" stroke="#C0262B" stroke-width="1.3"/><rect x="599.97" y="699.19" width="5.60" height="5.60" fill="#fff" stroke="#C0262B" stroke-width="1.3"/><rect x="600.88" y="698.29" width="5.60" height="5.60" fill="#fff" stroke="#C0262B" stroke-width="1.3"/><rect x="601.75" y="697.52" width="5.60" height="5.60" fill="#fff" stroke="#C0262B" stroke-width="1.3"/><rect x="602.59" y="696.91" width="5.60" height="5.60" fill="#fff" stroke="#C0262B" stroke-width="1.3"/><rect x="609.74" y="693.90" width="5.60" height="5.60" fill="#fff" stroke="#C0262B" stroke-width="1.3"/><rect x="615.28" y="689.66" width="5.60" height="5.60" fill="#fff" stroke="#C0262B" stroke-width="1.3"/><rect x="619.81" y="684.69" width="5.60" height="5.60" fill="#fff" stroke="#C0262B" stroke-width="1.3"/><rect x="623.64" y="678.71" width="5.60" height="5.60" fill="#fff" stroke="#C0262B" stroke-width="1.3"/><rect x="626.96" y="673.59" width="5.60" height="5.60" fill="#fff" stroke="#C0262B" stroke-width="1.3"/><rect x="629.88" y="669.39" width="5.60" height="5.60" fill="#fff" stroke="#C0262B" stroke-width="1.3"/><rect x="632.50" y="665.85" width="5.60" height="5.60" fill="#fff" stroke="#C0262B" stroke-width="1.3"/><rect x="634.87" y="663.31" width="5.60" height="5.60" fill="#fff" stroke="#C0262B" stroke-width="1.3"/><rect x="637.03" y="661.36" width="5.60" height="5.60" fill="#fff" stroke="#C0262B" stroke-width="1.3"/><rect x="639.02" y="659.68" width="5.60" height="5.60" fill="#fff" stroke="#C0262B" stroke-width="1.3"/><rect x="640.86" y="658.34" width="5.60" height="5.60" fill="#fff" stroke="#C0262B" stroke-width="1.3"/><rect x="642.57" y="657.39" width="5.60" height="5.60" fill="#fff" stroke="#C0262B" stroke-width="1.3"/><rect x="644.18" y="656.85" width="5.60" height="5.60" fill="#fff" stroke="#C0262B" stroke-width="1.3"/><rect x="645.68" y="656.60" width="5.60" height="5.60" fill="#fff" stroke="#C0262B" stroke-width="1.3"/><rect x="647.10" y="656.38" width="5.60" height="5.60" fill="#fff" stroke="#C0262B" stroke-width="1.3"/><rect x="648.44" y="656.20" width="5.60" height="5.60" fill="#fff" stroke="#C0262B" stroke-width="1.3"/><rect x="649.72" y="656.04" width="5.60" height="5.60" fill="#fff" stroke="#C0262B" stroke-width="1.3"/><rect x="650.93" y="655.91" width="5.60" height="5.60" fill="#fff" stroke="#C0262B" stroke-width="1.3"/><rect x="652.09" y="655.79" width="5.60" height="5.60" fill="#fff" stroke="#C0262B" stroke-width="1.3"/><rect x="653.19" y="655.70" width="5.60" height="5.60" fill="#fff" stroke="#C0262B" stroke-width="1.3"/><rect x="654.25" y="655.62" width="5.60" height="5.60" fill="#fff" stroke="#C0262B" stroke-width="1.3"/><rect x="655.26" y="655.56" width="5.60" height="5.60" fill="#fff" stroke="#C0262B" stroke-width="1.3"/><rect x="656.24" y="655.51" width="5.60" height="5.60" fill="#fff" stroke="#C0262B" stroke-width="1.3"/><rect x="657.17" y="655.47" width="5.60" height="5.60" fill="#fff" stroke="#C0262B" stroke-width="1.3"/><rect x="658.08" y="655.44" width="5.60" height="5.60" fill="#fff" stroke="#C0262B" stroke-width="1.3"/><rect x="658.95" y="655.43" width="5.60" height="5.60" fill="#fff" stroke="#C0262B" stroke-width="1.3"/><rect x="659.79" y="655.42" width="5.60" height="5.60" fill="#fff" stroke="#C0262B" stroke-width="1.3"/><rect x="666.94" y="655.58" width="5.60" height="5.60" fill="#fff" stroke="#C0262B" stroke-width="1.3"/><rect x="672.48" y="655.86" width="5.60" height="5.60" fill="#fff" stroke="#C0262B" stroke-width="1.3"/><rect x="677.01" y="656.14" width="5.60" height="5.60" fill="#fff" stroke="#C0262B" stroke-width="1.3"/><rect x="680.84" y="656.39" width="5.60" height="5.60" fill="#fff" stroke="#C0262B" stroke-width="1.3"/><rect x="684.16" y="656.66" width="5.60" height="5.60" fill="#fff" stroke="#C0262B" stroke-width="1.3"/><rect x="687.08" y="656.94" width="5.60" height="5.60" fill="#fff" stroke="#C0262B" stroke-width="1.3"/><rect x="689.70" y="657.22" width="5.60" height="5.60" fill="#fff" stroke="#C0262B" stroke-width="1.3"/><rect x="692.07" y="657.49" width="5.60" height="5.60" fill="#fff" stroke="#C0262B" stroke-width="1.3"/><rect x="694.23" y="657.76" width="5.60" height="5.60" fill="#fff" stroke="#C0262B" stroke-width="1.3"/><rect x="696.22" y="658.02" width="5.60" height="5.60" fill="#fff" stroke="#C0262B" stroke-width="1.3"/><rect x="698.06" y="658.27" width="5.60" height="5.60" fill="#fff" stroke="#C0262B" stroke-width="1.3"/><rect x="699.77" y="658.52" width="5.60" height="5.60" fill="#fff" stroke="#C0262B" stroke-width="1.3"/><rect x="701.38" y="658.76" width="5.60" height="5.60" fill="#fff" stroke="#C0262B" stroke-width="1.3"/><rect x="702.88" y="658.99" width="5.60" height="5.60" fill="#fff" stroke="#C0262B" stroke-width="1.3"/><rect x="704.30" y="659.21" width="5.60" height="5.60" fill="#fff" stroke="#C0262B" stroke-width="1.3"/><rect x="705.64" y="659.43" width="5.60" height="5.60" fill="#fff" stroke="#C0262B" stroke-width="1.3"/><rect x="706.92" y="659.64" width="5.60" height="5.60" fill="#fff" stroke="#C0262B" stroke-width="1.3"/></g>
<polyline points="406.50,854.24 423.72,853.90 433.79,853.42 440.94,852.70 446.48,851.75 451.01,850.57 454.84,849.17 458.16,847.68 461.08,846.18 463.70,844.69 466.07,842.98 468.23,840.99 470.22,838.89 472.06,836.81 473.77,834.83 475.38,832.99 476.88,831.32 478.30,829.83 479.64,828.47 480.92,827.21 482.13,826.03 483.29,824.89 484.39,823.80 485.45,822.75 486.46,821.71 487.44,820.69 488.37,819.69 489.28,818.68 490.15,817.69 490.99,816.69 498.14,806.67 503.68,799.52 508.21,792.36 512.04,786.09 515.36,781.00 518.28,777.35 520.90,774.42 523.27,771.92 525.43,769.80 527.42,768.05 529.26,766.53 530.97,765.26 532.58,764.29 534.08,763.52 535.50,762.88 536.84,762.35 538.12,761.89 539.33,761.52 540.49,761.20 541.59,760.92 542.65,760.67 543.66,760.44 544.64,760.20 545.57,759.97 546.48,759.72 547.35,759.46 548.19,759.19 555.34,756.28 560.88,752.06 565.41,746.78 569.24,741.21 572.56,736.04 575.48,731.07 578.10,726.68 580.47,722.86 582.63,719.40 584.62,716.26 586.46,713.42 588.17,710.86 589.78,708.45 591.28,706.18 592.70,704.13 594.04,702.36 595.32,700.91 596.53,699.65 597.69,698.49 598.79,697.42 599.85,696.45 600.86,695.58 601.84,694.80 602.77,694.12 603.68,693.53 604.55,693.04 605.39,692.63 612.54,690.46 618.08,686.36 622.61,680.28 626.44,673.94 629.76,668.45 632.68,664.11 635.30,660.95 637.67,659.27 639.83,657.99 641.82,656.98 643.66,656.25 645.37,655.80 646.98,655.61 648.48,655.61 649.90,655.65 651.24,655.71 652.52,655.78 653.73,655.86 654.89,655.94 655.99,656.02 657.05,656.11 658.06,656.19 659.04,656.26 659.97,656.33 660.88,656.40 661.75,656.45 662.59,656.50 669.74,656.85 675.28,657.09 679.81,657.35 683.64,657.63 686.96,657.98 689.88,658.43 692.50,658.92 694.87,659.44 697.03,659.96 699.02,660.49 700.86,661.00 702.57,661.51 704.18,662.00 705.68,662.47 707.10,662.94 708.44,663.38 709.72,663.81" fill="none" stroke="#1FC21F" stroke-width="1.3"/>
<g><circle cx="406.50" cy="854.24" r="3.30" fill="#fff" stroke="#1FC21F" stroke-width="1.3"/><circle cx="423.72" cy="853.90" r="3.30" fill="#fff" stroke="#1FC21F" stroke-width="1.3"/><circle cx="433.79" cy="853.42" r="3.30" fill="#fff" stroke="#1FC21F" stroke-width="1.3"/><circle cx="440.94" cy="852.70" r="3.30" fill="#fff" stroke="#1FC21F" stroke-width="1.3"/><circle cx="446.48" cy="851.75" r="3.30" fill="#fff" stroke="#1FC21F" stroke-width="1.3"/><circle cx="451.01" cy="850.57" r="3.30" fill="#fff" stroke="#1FC21F" stroke-width="1.3"/><circle cx="454.84" cy="849.17" r="3.30" fill="#fff" stroke="#1FC21F" stroke-width="1.3"/><circle cx="458.16" cy="847.68" r="3.30" fill="#fff" stroke="#1FC21F" stroke-width="1.3"/><circle cx="461.08" cy="846.18" r="3.30" fill="#fff" stroke="#1FC21F" stroke-width="1.3"/><circle cx="463.70" cy="844.69" r="3.30" fill="#fff" stroke="#1FC21F" stroke-width="1.3"/><circle cx="466.07" cy="842.98" r="3.30" fill="#fff" stroke="#1FC21F" stroke-width="1.3"/><circle cx="468.23" cy="840.99" r="3.30" fill="#fff" stroke="#1FC21F" stroke-width="1.3"/><circle cx="470.22" cy="838.89" r="3.30" fill="#fff" stroke="#1FC21F" stroke-width="1.3"/><circle cx="472.06" cy="836.81" r="3.30" fill="#fff" stroke="#1FC21F" stroke-width="1.3"/><circle cx="473.77" cy="834.83" r="3.30" fill="#fff" stroke="#1FC21F" stroke-width="1.3"/><circle cx="475.38" cy="832.99" r="3.30" fill="#fff" stroke="#1FC21F" stroke-width="1.3"/><circle cx="476.88" cy="831.32" r="3.30" fill="#fff" stroke="#1FC21F" stroke-width="1.3"/><circle cx="478.30" cy="829.83" r="3.30" fill="#fff" stroke="#1FC21F" stroke-width="1.3"/><circle cx="479.64" cy="828.47" r="3.30" fill="#fff" stroke="#1FC21F" stroke-width="1.3"/><circle cx="480.92" cy="827.21" r="3.30" fill="#fff" stroke="#1FC21F" stroke-width="1.3"/><circle cx="482.13" cy="826.03" r="3.30" fill="#fff" stroke="#1FC21F" stroke-width="1.3"/><circle cx="483.29" cy="824.89" r="3.30" fill="#fff" stroke="#1FC21F" stroke-width="1.3"/><circle cx="484.39" cy="823.80" r="3.30" fill="#fff" stroke="#1FC21F" stroke-width="1.3"/><circle cx="485.45" cy="822.75" r="3.30" fill="#fff" stroke="#1FC21F" stroke-width="1.3"/><circle cx="486.46" cy="821.71" r="3.30" fill="#fff" stroke="#1FC21F" stroke-width="1.3"/><circle cx="487.44" cy="820.69" r="3.30" fill="#fff" stroke="#1FC21F" stroke-width="1.3"/><circle cx="488.37" cy="819.69" r="3.30" fill="#fff" stroke="#1FC21F" stroke-width="1.3"/><circle cx="489.28" cy="818.68" r="3.30" fill="#fff" stroke="#1FC21F" stroke-width="1.3"/><circle cx="490.15" cy="817.69" r="3.30" fill="#fff" stroke="#1FC21F" stroke-width="1.3"/><circle cx="490.99" cy="816.69" r="3.30" fill="#fff" stroke="#1FC21F" stroke-width="1.3"/><circle cx="498.14" cy="806.67" r="3.30" fill="#fff" stroke="#1FC21F" stroke-width="1.3"/><circle cx="503.68" cy="799.52" r="3.30" fill="#fff" stroke="#1FC21F" stroke-width="1.3"/><circle cx="508.21" cy="792.36" r="3.30" fill="#fff" stroke="#1FC21F" stroke-width="1.3"/><circle cx="512.04" cy="786.09" r="3.30" fill="#fff" stroke="#1FC21F" stroke-width="1.3"/><circle cx="515.36" cy="781.00" r="3.30" fill="#fff" stroke="#1FC21F" stroke-width="1.3"/><circle cx="518.28" cy="777.35" r="3.30" fill="#fff" stroke="#1FC21F" stroke-width="1.3"/><circle cx="520.90" cy="774.42" r="3.30" fill="#fff" stroke="#1FC21F" stroke-width="1.3"/><circle cx="523.27" cy="771.92" r="3.30" fill="#fff" stroke="#1FC21F" stroke-width="1.3"/><circle cx="525.43" cy="769.80" r="3.30" fill="#fff" stroke="#1FC21F" stroke-width="1.3"/><circle cx="527.42" cy="768.05" r="3.30" fill="#fff" stroke="#1FC21F" stroke-width="1.3"/><circle cx="529.26" cy="766.53" r="3.30" fill="#fff" stroke="#1FC21F" stroke-width="1.3"/><circle cx="530.97" cy="765.26" r="3.30" fill="#fff" stroke="#1FC21F" stroke-width="1.3"/><circle cx="532.58" cy="764.29" r="3.30" fill="#fff" stroke="#1FC21F" stroke-width="1.3"/><circle cx="534.08" cy="763.52" r="3.30" fill="#fff" stroke="#1FC21F" stroke-width="1.3"/><circle cx="535.50" cy="762.88" r="3.30" fill="#fff" stroke="#1FC21F" stroke-width="1.3"/><circle cx="536.84" cy="762.35" r="3.30" fill="#fff" stroke="#1FC21F" stroke-width="1.3"/><circle cx="538.12" cy="761.89" r="3.30" fill="#fff" stroke="#1FC21F" stroke-width="1.3"/><circle cx="539.33" cy="761.52" r="3.30" fill="#fff" stroke="#1FC21F" stroke-width="1.3"/><circle cx="540.49" cy="761.20" r="3.30" fill="#fff" stroke="#1FC21F" stroke-width="1.3"/><circle cx="541.59" cy="760.92" r="3.30" fill="#fff" stroke="#1FC21F" stroke-width="1.3"/><circle cx="542.65" cy="760.67" r="3.30" fill="#fff" stroke="#1FC21F" stroke-width="1.3"/><circle cx="543.66" cy="760.44" r="3.30" fill="#fff" stroke="#1FC21F" stroke-width="1.3"/><circle cx="544.64" cy="760.20" r="3.30" fill="#fff" stroke="#1FC21F" stroke-width="1.3"/><circle cx="545.57" cy="759.97" r="3.30" fill="#fff" stroke="#1FC21F" stroke-width="1.3"/><circle cx="546.48" cy="759.72" r="3.30" fill="#fff" stroke="#1FC21F" stroke-width="1.3"/><circle cx="547.35" cy="759.46" r="3.30" fill="#fff" stroke="#1FC21F" stroke-width="1.3"/><circle cx="548.19" cy="759.19" r="3.30" fill="#fff" stroke="#1FC21F" stroke-width="1.3"/><circle cx="555.34" cy="756.28" r="3.30" fill="#fff" stroke="#1FC21F" stroke-width="1.3"/><circle cx="560.88" cy="752.06" r="3.30" fill="#fff" stroke="#1FC21F" stroke-width="1.3"/><circle cx="565.41" cy="746.78" r="3.30" fill="#fff" stroke="#1FC21F" stroke-width="1.3"/><circle cx="569.24" cy="741.21" r="3.30" fill="#fff" stroke="#1FC21F" stroke-width="1.3"/><circle cx="572.56" cy="736.04" r="3.30" fill="#fff" stroke="#1FC21F" stroke-width="1.3"/><circle cx="575.48" cy="731.07" r="3.30" fill="#fff" stroke="#1FC21F" stroke-width="1.3"/><circle cx="578.10" cy="726.68" r="3.30" fill="#fff" stroke="#1FC21F" stroke-width="1.3"/><circle cx="580.47" cy="722.86" r="3.30" fill="#fff" stroke="#1FC21F" stroke-width="1.3"/><circle cx="582.63" cy="719.40" r="3.30" fill="#fff" stroke="#1FC21F" stroke-width="1.3"/><circle cx="584.62" cy="716.26" r="3.30" fill="#fff" stroke="#1FC21F" stroke-width="1.3"/><circle cx="586.46" cy="713.42" r="3.30" fill="#fff" stroke="#1FC21F" stroke-width="1.3"/><circle cx="588.17" cy="710.86" r="3.30" fill="#fff" stroke="#1FC21F" stroke-width="1.3"/><circle cx="589.78" cy="708.45" r="3.30" fill="#fff" stroke="#1FC21F" stroke-width="1.3"/><circle cx="591.28" cy="706.18" r="3.30" fill="#fff" stroke="#1FC21F" stroke-width="1.3"/><circle cx="592.70" cy="704.13" r="3.30" fill="#fff" stroke="#1FC21F" stroke-width="1.3"/><circle cx="594.04" cy="702.36" r="3.30" fill="#fff" stroke="#1FC21F" stroke-width="1.3"/><circle cx="595.32" cy="700.91" r="3.30" fill="#fff" stroke="#1FC21F" stroke-width="1.3"/><circle cx="596.53" cy="699.65" r="3.30" fill="#fff" stroke="#1FC21F" stroke-width="1.3"/><circle cx="597.69" cy="698.49" r="3.30" fill="#fff" stroke="#1FC21F" stroke-width="1.3"/><circle cx="598.79" cy="697.42" r="3.30" fill="#fff" stroke="#1FC21F" stroke-width="1.3"/><circle cx="599.85" cy="696.45" r="3.30" fill="#fff" stroke="#1FC21F" stroke-width="1.3"/><circle cx="600.86" cy="695.58" r="3.30" fill="#fff" stroke="#1FC21F" stroke-width="1.3"/><circle cx="601.84" cy="694.80" r="3.30" fill="#fff" stroke="#1FC21F" stroke-width="1.3"/><circle cx="602.77" cy="694.12" r="3.30" fill="#fff" stroke="#1FC21F" stroke-width="1.3"/><circle cx="603.68" cy="693.53" r="3.30" fill="#fff" stroke="#1FC21F" stroke-width="1.3"/><circle cx="604.55" cy="693.04" r="3.30" fill="#fff" stroke="#1FC21F" stroke-width="1.3"/><circle cx="605.39" cy="692.63" r="3.30" fill="#fff" stroke="#1FC21F" stroke-width="1.3"/><circle cx="612.54" cy="690.46" r="3.30" fill="#fff" stroke="#1FC21F" stroke-width="1.3"/><circle cx="618.08" cy="686.36" r="3.30" fill="#fff" stroke="#1FC21F" stroke-width="1.3"/><circle cx="622.61" cy="680.28" r="3.30" fill="#fff" stroke="#1FC21F" stroke-width="1.3"/><circle cx="626.44" cy="673.94" r="3.30" fill="#fff" stroke="#1FC21F" stroke-width="1.3"/><circle cx="629.76" cy="668.45" r="3.30" fill="#fff" stroke="#1FC21F" stroke-width="1.3"/><circle cx="632.68" cy="664.11" r="3.30" fill="#fff" stroke="#1FC21F" stroke-width="1.3"/><circle cx="635.30" cy="660.95" r="3.30" fill="#fff" stroke="#1FC21F" stroke-width="1.3"/><circle cx="637.67" cy="659.27" r="3.30" fill="#fff" stroke="#1FC21F" stroke-width="1.3"/><circle cx="639.83" cy="657.99" r="3.30" fill="#fff" stroke="#1FC21F" stroke-width="1.3"/><circle cx="641.82" cy="656.98" r="3.30" fill="#fff" stroke="#1FC21F" stroke-width="1.3"/><circle cx="643.66" cy="656.25" r="3.30" fill="#fff" stroke="#1FC21F" stroke-width="1.3"/><circle cx="645.37" cy="655.80" r="3.30" fill="#fff" stroke="#1FC21F" stroke-width="1.3"/><circle cx="646.98" cy="655.61" r="3.30" fill="#fff" stroke="#1FC21F" stroke-width="1.3"/><circle cx="648.48" cy="655.61" r="3.30" fill="#fff" stroke="#1FC21F" stroke-width="1.3"/><circle cx="649.90" cy="655.65" r="3.30" fill="#fff" stroke="#1FC21F" stroke-width="1.3"/><circle cx="651.24" cy="655.71" r="3.30" fill="#fff" stroke="#1FC21F" stroke-width="1.3"/><circle cx="652.52" cy="655.78" r="3.30" fill="#fff" stroke="#1FC21F" stroke-width="1.3"/><circle cx="653.73" cy="655.86" r="3.30" fill="#fff" stroke="#1FC21F" stroke-width="1.3"/><circle cx="654.89" cy="655.94" r="3.30" fill="#fff" stroke="#1FC21F" stroke-width="1.3"/><circle cx="655.99" cy="656.02" r="3.30" fill="#fff" stroke="#1FC21F" stroke-width="1.3"/><circle cx="657.05" cy="656.11" r="3.30" fill="#fff" stroke="#1FC21F" stroke-width="1.3"/><circle cx="658.06" cy="656.19" r="3.30" fill="#fff" stroke="#1FC21F" stroke-width="1.3"/><circle cx="659.04" cy="656.26" r="3.30" fill="#fff" stroke="#1FC21F" stroke-width="1.3"/><circle cx="659.97" cy="656.33" r="3.30" fill="#fff" stroke="#1FC21F" stroke-width="1.3"/><circle cx="660.88" cy="656.40" r="3.30" fill="#fff" stroke="#1FC21F" stroke-width="1.3"/><circle cx="661.75" cy="656.45" r="3.30" fill="#fff" stroke="#1FC21F" stroke-width="1.3"/><circle cx="662.59" cy="656.50" r="3.30" fill="#fff" stroke="#1FC21F" stroke-width="1.3"/><circle cx="669.74" cy="656.85" r="3.30" fill="#fff" stroke="#1FC21F" stroke-width="1.3"/><circle cx="675.28" cy="657.09" r="3.30" fill="#fff" stroke="#1FC21F" stroke-width="1.3"/><circle cx="679.81" cy="657.35" r="3.30" fill="#fff" stroke="#1FC21F" stroke-width="1.3"/><circle cx="683.64" cy="657.63" r="3.30" fill="#fff" stroke="#1FC21F" stroke-width="1.3"/><circle cx="686.96" cy="657.98" r="3.30" fill="#fff" stroke="#1FC21F" stroke-width="1.3"/><circle cx="689.88" cy="658.43" r="3.30" fill="#fff" stroke="#1FC21F" stroke-width="1.3"/><circle cx="692.50" cy="658.92" r="3.30" fill="#fff" stroke="#1FC21F" stroke-width="1.3"/><circle cx="694.87" cy="659.44" r="3.30" fill="#fff" stroke="#1FC21F" stroke-width="1.3"/><circle cx="697.03" cy="659.96" r="3.30" fill="#fff" stroke="#1FC21F" stroke-width="1.3"/><circle cx="699.02" cy="660.49" r="3.30" fill="#fff" stroke="#1FC21F" stroke-width="1.3"/><circle cx="700.86" cy="661.00" r="3.30" fill="#fff" stroke="#1FC21F" stroke-width="1.3"/><circle cx="702.57" cy="661.51" r="3.30" fill="#fff" stroke="#1FC21F" stroke-width="1.3"/><circle cx="704.18" cy="662.00" r="3.30" fill="#fff" stroke="#1FC21F" stroke-width="1.3"/><circle cx="705.68" cy="662.47" r="3.30" fill="#fff" stroke="#1FC21F" stroke-width="1.3"/><circle cx="707.10" cy="662.94" r="3.30" fill="#fff" stroke="#1FC21F" stroke-width="1.3"/><circle cx="708.44" cy="663.38" r="3.30" fill="#fff" stroke="#1FC21F" stroke-width="1.3"/><circle cx="709.72" cy="663.81" r="3.30" fill="#fff" stroke="#1FC21F" stroke-width="1.3"/></g>
<polyline points="406.50,855.15 423.72,855.15 433.79,854.78 440.94,853.72 446.48,852.21 451.01,850.81 454.84,849.38 458.16,847.92 461.08,846.43 463.70,844.92 466.07,843.12 468.23,841.01 470.22,838.78 472.06,836.57 473.77,834.48 475.38,832.54 476.88,830.79 478.30,829.25 479.64,827.85 480.92,826.54 482.13,825.30 483.29,824.13 484.39,823.01 485.45,821.93 486.46,820.88 487.44,819.86 488.37,818.87 489.28,817.90 490.15,816.94 490.99,815.99 498.14,807.23 503.68,798.29 508.21,790.92 512.04,785.92 515.36,781.99 518.28,778.95 520.90,776.70 523.27,774.94 525.43,773.51 527.42,772.41 529.26,771.65 530.97,771.17 532.58,770.84 534.08,770.57 535.50,770.32 536.84,770.05 538.12,769.74 539.33,769.35 540.49,768.90 541.59,768.42 542.65,767.95 543.66,767.50 544.64,767.09 545.57,766.74 546.48,766.47 547.35,766.26 548.19,766.12 555.34,765.30 560.88,760.34 565.41,754.64 569.24,749.43 572.56,745.21 575.48,741.16 578.10,737.19 580.47,733.69 582.63,730.62 584.62,727.85 586.46,725.27 588.17,722.80 589.78,720.42 591.28,718.24 592.70,716.33 594.04,714.71 595.32,713.27 596.53,711.95 597.69,710.75 598.79,709.67 599.85,708.68 600.86,707.79 601.84,706.99 602.77,706.27 603.68,705.61 604.55,705.04 605.39,704.57 612.54,702.18 618.08,700.54 622.61,698.38 626.44,694.82 629.76,691.56 632.68,688.50 635.30,685.79 637.67,683.88 639.83,682.75 641.82,681.84 643.66,681.14 645.37,680.64 646.98,680.34 648.48,680.20 649.90,680.09 651.24,680.00 652.52,679.92 653.73,679.85 654.89,679.79 655.99,679.75 657.05,679.70 658.06,679.67 659.04,679.65 659.97,679.62 660.88,679.61 661.75,679.60 662.59,679.60 669.74,680.03 675.28,680.86 679.81,681.65 683.64,682.28 686.96,682.79 689.88,683.26 692.50,683.69 694.87,684.09 697.03,684.47 699.02,684.83 700.86,685.17 702.57,685.49 704.18,685.79 705.68,686.08 707.10,686.36 708.44,686.63 709.72,686.88" fill="none" stroke="#E8A66C" stroke-width="1.3"/>
<g><path d="M406.50,851.35L410.11,857.50H402.89Z" fill="#fff" stroke="#E8A66C" stroke-width="1.3"/><path d="M423.72,851.35L427.33,857.50H420.11Z" fill="#fff" stroke="#E8A66C" stroke-width="1.3"/><path d="M433.79,850.98L437.40,857.13H430.18Z" fill="#fff" stroke="#E8A66C" stroke-width="1.3"/><path d="M440.94,849.92L444.55,856.08H437.33Z" fill="#fff" stroke="#E8A66C" stroke-width="1.3"/><path d="M446.48,848.41L450.09,854.56H442.87Z" fill="#fff" stroke="#E8A66C" stroke-width="1.3"/><path d="M451.01,847.01L454.62,853.16H447.40Z" fill="#fff" stroke="#E8A66C" stroke-width="1.3"/><path d="M454.84,845.58L458.45,851.74H451.23Z" fill="#fff" stroke="#E8A66C" stroke-width="1.3"/><path d="M458.16,844.12L461.77,850.28H454.55Z" fill="#fff" stroke="#E8A66C" stroke-width="1.3"/><path d="M461.08,842.63L464.69,848.79H457.47Z" fill="#fff" stroke="#E8A66C" stroke-width="1.3"/><path d="M463.70,841.12L467.31,847.27H460.09Z" fill="#fff" stroke="#E8A66C" stroke-width="1.3"/><path d="M466.07,839.32L469.68,845.48H462.46Z" fill="#fff" stroke="#E8A66C" stroke-width="1.3"/><path d="M468.23,837.21L471.84,843.36H464.62Z" fill="#fff" stroke="#E8A66C" stroke-width="1.3"/><path d="M470.22,834.98L473.83,841.14H466.61Z" fill="#fff" stroke="#E8A66C" stroke-width="1.3"/><path d="M472.06,832.77L475.67,838.93H468.45Z" fill="#fff" stroke="#E8A66C" stroke-width="1.3"/><path d="M473.77,830.68L477.38,836.83H470.16Z" fill="#fff" stroke="#E8A66C" stroke-width="1.3"/><path d="M475.38,828.74L478.99,834.89H471.77Z" fill="#fff" stroke="#E8A66C" stroke-width="1.3"/><path d="M476.88,826.99L480.49,833.15H473.27Z" fill="#fff" stroke="#E8A66C" stroke-width="1.3"/><path d="M478.30,825.45L481.91,831.60H474.69Z" fill="#fff" stroke="#E8A66C" stroke-width="1.3"/><path d="M479.64,824.05L483.25,830.20H476.03Z" fill="#fff" stroke="#E8A66C" stroke-width="1.3"/><path d="M480.92,822.74L484.53,828.89H477.31Z" fill="#fff" stroke="#E8A66C" stroke-width="1.3"/><path d="M482.13,821.50L485.74,827.66H478.52Z" fill="#fff" stroke="#E8A66C" stroke-width="1.3"/><path d="M483.29,820.33L486.90,826.49H479.68Z" fill="#fff" stroke="#E8A66C" stroke-width="1.3"/><path d="M484.39,819.21L488.00,825.36H480.78Z" fill="#fff" stroke="#E8A66C" stroke-width="1.3"/><path d="M485.45,818.13L489.06,824.28H481.84Z" fill="#fff" stroke="#E8A66C" stroke-width="1.3"/><path d="M486.46,817.08L490.07,823.24H482.85Z" fill="#fff" stroke="#E8A66C" stroke-width="1.3"/><path d="M487.44,816.06L491.05,822.22H483.83Z" fill="#fff" stroke="#E8A66C" stroke-width="1.3"/><path d="M488.37,815.07L491.98,821.23H484.76Z" fill="#fff" stroke="#E8A66C" stroke-width="1.3"/><path d="M489.28,814.10L492.89,820.25H485.67Z" fill="#fff" stroke="#E8A66C" stroke-width="1.3"/><path d="M490.15,813.14L493.76,819.30H486.54Z" fill="#fff" stroke="#E8A66C" stroke-width="1.3"/><path d="M490.99,812.19L494.60,818.35H487.38Z" fill="#fff" stroke="#E8A66C" stroke-width="1.3"/><path d="M498.14,803.43L501.75,809.59H494.53Z" fill="#fff" stroke="#E8A66C" stroke-width="1.3"/><path d="M503.68,794.49L507.29,800.65H500.07Z" fill="#fff" stroke="#E8A66C" stroke-width="1.3"/><path d="M508.21,787.12L511.82,793.28H504.60Z" fill="#fff" stroke="#E8A66C" stroke-width="1.3"/><path d="M512.04,782.12L515.65,788.27H508.43Z" fill="#fff" stroke="#E8A66C" stroke-width="1.3"/><path d="M515.36,778.19L518.97,784.34H511.75Z" fill="#fff" stroke="#E8A66C" stroke-width="1.3"/><path d="M518.28,775.15L521.89,781.30H514.67Z" fill="#fff" stroke="#E8A66C" stroke-width="1.3"/><path d="M520.90,772.90L524.51,779.05H517.29Z" fill="#fff" stroke="#E8A66C" stroke-width="1.3"/><path d="M523.27,771.14L526.88,777.30H519.66Z" fill="#fff" stroke="#E8A66C" stroke-width="1.3"/><path d="M525.43,769.71L529.04,775.86H521.82Z" fill="#fff" stroke="#E8A66C" stroke-width="1.3"/><path d="M527.42,768.61L531.03,774.76H523.81Z" fill="#fff" stroke="#E8A66C" stroke-width="1.3"/><path d="M529.26,767.85L532.87,774.01H525.65Z" fill="#fff" stroke="#E8A66C" stroke-width="1.3"/><path d="M530.97,767.37L534.58,773.53H527.36Z" fill="#fff" stroke="#E8A66C" stroke-width="1.3"/><path d="M532.58,767.04L536.19,773.19H528.97Z" fill="#fff" stroke="#E8A66C" stroke-width="1.3"/><path d="M534.08,766.77L537.69,772.92H530.47Z" fill="#fff" stroke="#E8A66C" stroke-width="1.3"/><path d="M535.50,766.52L539.11,772.68H531.89Z" fill="#fff" stroke="#E8A66C" stroke-width="1.3"/><path d="M536.84,766.25L540.45,772.41H533.23Z" fill="#fff" stroke="#E8A66C" stroke-width="1.3"/><path d="M538.12,765.94L541.73,772.10H534.51Z" fill="#fff" stroke="#E8A66C" stroke-width="1.3"/><path d="M539.33,765.55L542.94,771.71H535.72Z" fill="#fff" stroke="#E8A66C" stroke-width="1.3"/><path d="M540.49,765.10L544.10,771.26H536.88Z" fill="#fff" stroke="#E8A66C" stroke-width="1.3"/><path d="M541.59,764.62L545.20,770.78H537.98Z" fill="#fff" stroke="#E8A66C" stroke-width="1.3"/><path d="M542.65,764.15L546.26,770.30H539.04Z" fill="#fff" stroke="#E8A66C" stroke-width="1.3"/><path d="M543.66,763.70L547.27,769.85H540.05Z" fill="#fff" stroke="#E8A66C" stroke-width="1.3"/><path d="M544.64,763.29L548.25,769.45H541.03Z" fill="#fff" stroke="#E8A66C" stroke-width="1.3"/><path d="M545.57,762.94L549.18,769.10H541.96Z" fill="#fff" stroke="#E8A66C" stroke-width="1.3"/><path d="M546.48,762.67L550.09,768.82H542.87Z" fill="#fff" stroke="#E8A66C" stroke-width="1.3"/><path d="M547.35,762.46L550.96,768.62H543.74Z" fill="#fff" stroke="#E8A66C" stroke-width="1.3"/><path d="M548.19,762.32L551.80,768.48H544.58Z" fill="#fff" stroke="#E8A66C" stroke-width="1.3"/><path d="M555.34,761.50L558.95,767.65H551.73Z" fill="#fff" stroke="#E8A66C" stroke-width="1.3"/><path d="M560.88,756.54L564.49,762.69H557.27Z" fill="#fff" stroke="#E8A66C" stroke-width="1.3"/><path d="M565.41,750.84L569.02,757.00H561.80Z" fill="#fff" stroke="#E8A66C" stroke-width="1.3"/><path d="M569.24,745.63L572.85,751.78H565.63Z" fill="#fff" stroke="#E8A66C" stroke-width="1.3"/><path d="M572.56,741.41L576.17,747.57H568.95Z" fill="#fff" stroke="#E8A66C" stroke-width="1.3"/><path d="M575.48,737.36L579.09,743.52H571.87Z" fill="#fff" stroke="#E8A66C" stroke-width="1.3"/><path d="M578.10,733.39L581.71,739.54H574.49Z" fill="#fff" stroke="#E8A66C" stroke-width="1.3"/><path d="M580.47,729.89L584.08,736.04H576.86Z" fill="#fff" stroke="#E8A66C" stroke-width="1.3"/><path d="M582.63,726.82L586.24,732.98H579.02Z" fill="#fff" stroke="#E8A66C" stroke-width="1.3"/><path d="M584.62,724.05L588.23,730.20H581.01Z" fill="#fff" stroke="#E8A66C" stroke-width="1.3"/><path d="M586.46,721.47L590.07,727.63H582.85Z" fill="#fff" stroke="#E8A66C" stroke-width="1.3"/><path d="M588.17,719.00L591.78,725.16H584.56Z" fill="#fff" stroke="#E8A66C" stroke-width="1.3"/><path d="M589.78,716.62L593.39,722.78H586.17Z" fill="#fff" stroke="#E8A66C" stroke-width="1.3"/><path d="M591.28,714.44L594.89,720.60H587.67Z" fill="#fff" stroke="#E8A66C" stroke-width="1.3"/><path d="M592.70,712.53L596.31,718.69H589.09Z" fill="#fff" stroke="#E8A66C" stroke-width="1.3"/><path d="M594.04,710.91L597.65,717.07H590.43Z" fill="#fff" stroke="#E8A66C" stroke-width="1.3"/><path d="M595.32,709.47L598.93,715.62H591.71Z" fill="#fff" stroke="#E8A66C" stroke-width="1.3"/><path d="M596.53,708.15L600.14,714.31H592.92Z" fill="#fff" stroke="#E8A66C" stroke-width="1.3"/><path d="M597.69,706.95L601.30,713.11H594.08Z" fill="#fff" stroke="#E8A66C" stroke-width="1.3"/><path d="M598.79,705.87L602.40,712.02H595.18Z" fill="#fff" stroke="#E8A66C" stroke-width="1.3"/><path d="M599.85,704.88L603.46,711.04H596.24Z" fill="#fff" stroke="#E8A66C" stroke-width="1.3"/><path d="M600.86,703.99L604.47,710.15H597.25Z" fill="#fff" stroke="#E8A66C" stroke-width="1.3"/><path d="M601.84,703.19L605.45,709.35H598.23Z" fill="#fff" stroke="#E8A66C" stroke-width="1.3"/><path d="M602.77,702.47L606.38,708.63H599.16Z" fill="#fff" stroke="#E8A66C" stroke-width="1.3"/><path d="M603.68,701.81L607.29,707.97H600.07Z" fill="#fff" stroke="#E8A66C" stroke-width="1.3"/><path d="M604.55,701.24L608.16,707.39H600.94Z" fill="#fff" stroke="#E8A66C" stroke-width="1.3"/><path d="M605.39,700.77L609.00,706.93H601.78Z" fill="#fff" stroke="#E8A66C" stroke-width="1.3"/><path d="M612.54,698.38L616.15,704.54H608.93Z" fill="#fff" stroke="#E8A66C" stroke-width="1.3"/><path d="M618.08,696.74L621.69,702.90H614.47Z" fill="#fff" stroke="#E8A66C" stroke-width="1.3"/><path d="M622.61,694.58L626.22,700.73H619.00Z" fill="#fff" stroke="#E8A66C" stroke-width="1.3"/><path d="M626.44,691.02L630.05,697.18H622.83Z" fill="#fff" stroke="#E8A66C" stroke-width="1.3"/><path d="M629.76,687.76L633.37,693.91H626.15Z" fill="#fff" stroke="#E8A66C" stroke-width="1.3"/><path d="M632.68,684.70L636.29,690.86H629.07Z" fill="#fff" stroke="#E8A66C" stroke-width="1.3"/><path d="M635.30,681.99L638.91,688.15H631.69Z" fill="#fff" stroke="#E8A66C" stroke-width="1.3"/><path d="M637.67,680.08L641.28,686.23H634.06Z" fill="#fff" stroke="#E8A66C" stroke-width="1.3"/><path d="M639.83,678.95L643.44,685.10H636.22Z" fill="#fff" stroke="#E8A66C" stroke-width="1.3"/><path d="M641.82,678.04L645.43,684.20H638.21Z" fill="#fff" stroke="#E8A66C" stroke-width="1.3"/><path d="M643.66,677.34L647.27,683.49H640.05Z" fill="#fff" stroke="#E8A66C" stroke-width="1.3"/><path d="M645.37,676.84L648.98,682.99H641.76Z" fill="#fff" stroke="#E8A66C" stroke-width="1.3"/><path d="M646.98,676.54L650.59,682.69H643.37Z" fill="#fff" stroke="#E8A66C" stroke-width="1.3"/><path d="M648.48,676.40L652.09,682.56H644.87Z" fill="#fff" stroke="#E8A66C" stroke-width="1.3"/><path d="M649.90,676.29L653.51,682.45H646.29Z" fill="#fff" stroke="#E8A66C" stroke-width="1.3"/><path d="M651.24,676.20L654.85,682.36H647.63Z" fill="#fff" stroke="#E8A66C" stroke-width="1.3"/><path d="M652.52,676.12L656.13,682.28H648.91Z" fill="#fff" stroke="#E8A66C" stroke-width="1.3"/><path d="M653.73,676.05L657.34,682.21H650.12Z" fill="#fff" stroke="#E8A66C" stroke-width="1.3"/><path d="M654.89,675.99L658.50,682.15H651.28Z" fill="#fff" stroke="#E8A66C" stroke-width="1.3"/><path d="M655.99,675.95L659.60,682.10H652.38Z" fill="#fff" stroke="#E8A66C" stroke-width="1.3"/><path d="M657.05,675.90L660.66,682.06H653.44Z" fill="#fff" stroke="#E8A66C" stroke-width="1.3"/><path d="M658.06,675.87L661.67,682.03H654.45Z" fill="#fff" stroke="#E8A66C" stroke-width="1.3"/><path d="M659.04,675.85L662.65,682.00H655.43Z" fill="#fff" stroke="#E8A66C" stroke-width="1.3"/><path d="M659.97,675.82L663.58,681.98H656.36Z" fill="#fff" stroke="#E8A66C" stroke-width="1.3"/><path d="M660.88,675.81L664.49,681.97H657.27Z" fill="#fff" stroke="#E8A66C" stroke-width="1.3"/><path d="M661.75,675.80L665.36,681.96H658.14Z" fill="#fff" stroke="#E8A66C" stroke-width="1.3"/><path d="M662.59,675.80L666.20,681.95H658.98Z" fill="#fff" stroke="#E8A66C" stroke-width="1.3"/><path d="M669.74,676.23L673.35,682.39H666.13Z" fill="#fff" stroke="#E8A66C" stroke-width="1.3"/><path d="M675.28,677.06L678.89,683.22H671.67Z" fill="#fff" stroke="#E8A66C" stroke-width="1.3"/><path d="M679.81,677.85L683.42,684.01H676.20Z" fill="#fff" stroke="#E8A66C" stroke-width="1.3"/><path d="M683.64,678.48L687.25,684.64H680.03Z" fill="#fff" stroke="#E8A66C" stroke-width="1.3"/><path d="M686.96,678.99L690.57,685.14H683.35Z" fill="#fff" stroke="#E8A66C" stroke-width="1.3"/><path d="M689.88,679.46L693.49,685.61H686.27Z" fill="#fff" stroke="#E8A66C" stroke-width="1.3"/><path d="M692.50,679.89L696.11,686.05H688.89Z" fill="#fff" stroke="#E8A66C" stroke-width="1.3"/><path d="M694.87,680.29L698.48,686.45H691.26Z" fill="#fff" stroke="#E8A66C" stroke-width="1.3"/><path d="M697.03,680.67L700.64,686.83H693.42Z" fill="#fff" stroke="#E8A66C" stroke-width="1.3"/><path d="M699.02,681.03L702.63,687.19H695.41Z" fill="#fff" stroke="#E8A66C" stroke-width="1.3"/><path d="M700.86,681.37L704.47,687.52H697.25Z" fill="#fff" stroke="#E8A66C" stroke-width="1.3"/><path d="M702.57,681.69L706.18,687.84H698.96Z" fill="#fff" stroke="#E8A66C" stroke-width="1.3"/><path d="M704.18,681.99L707.79,688.15H700.57Z" fill="#fff" stroke="#E8A66C" stroke-width="1.3"/><path d="M705.68,682.28L709.29,688.44H702.07Z" fill="#fff" stroke="#E8A66C" stroke-width="1.3"/><path d="M707.10,682.56L710.71,688.72H703.49Z" fill="#fff" stroke="#E8A66C" stroke-width="1.3"/><path d="M708.44,682.83L712.05,688.98H704.83Z" fill="#fff" stroke="#E8A66C" stroke-width="1.3"/><path d="M709.72,683.08L713.33,689.24H706.11Z" fill="#fff" stroke="#E8A66C" stroke-width="1.3"/></g>
<polyline points="406.50,855.60 423.72,855.49 433.79,854.93 440.94,853.60 446.48,851.98 451.01,850.48 454.84,848.96 458.16,847.43 461.08,845.89 463.70,844.35 466.07,842.60 468.23,840.63 470.22,838.64 472.06,836.74 473.77,834.81 475.38,832.89 476.88,831.03 478.30,829.30 479.64,827.69 480.92,826.16 482.13,824.70 483.29,823.31 484.39,821.99 485.45,820.74 486.46,819.56 487.44,818.45 488.37,817.40 489.28,816.38 490.15,815.39 490.99,814.41 498.14,805.45 503.68,798.57 508.21,793.97 512.04,790.16 515.36,786.80 518.28,783.90 520.90,781.85 523.27,780.30 525.43,779.30 527.42,778.58 529.26,778.05 530.97,777.68 532.58,777.40 534.08,777.18 535.50,776.99 536.84,776.83 538.12,776.69 539.33,776.58 540.49,776.49 541.59,776.43 542.65,776.37 543.66,776.30 544.64,776.23 545.57,776.14 546.48,776.04 547.35,775.92 548.19,775.70 555.34,768.85 560.88,763.30 565.41,757.66 569.24,752.52 572.56,748.16 575.48,744.03 578.10,740.04 580.47,736.53 582.63,733.48 584.62,730.72 586.46,728.16 588.17,725.71 589.78,723.35 591.28,721.17 592.70,719.24 594.04,717.59 595.32,716.12 596.53,714.77 597.69,713.53 598.79,712.41 599.85,711.41 600.86,710.51 601.84,709.72 602.77,709.02 603.68,708.41 604.55,707.88 605.39,707.42 612.54,704.51 618.08,703.00 622.61,701.55 626.44,697.83 629.76,694.13 632.68,690.88 635.30,688.02 637.67,685.97 639.83,684.70 641.82,683.67 643.66,682.86 645.37,682.28 646.98,681.94 648.48,681.78 649.90,681.65 651.24,681.55 652.52,681.45 653.73,681.37 654.89,681.31 655.99,681.25 657.05,681.20 658.06,681.16 659.04,681.13 659.97,681.11 660.88,681.09 661.75,681.08 662.59,681.07 669.74,681.48 675.28,682.26 679.81,683.01 683.64,683.62 686.96,684.12 689.88,684.59 692.50,685.03 694.87,685.44 697.03,685.83 699.02,686.20 700.86,686.56 702.57,686.89 704.18,687.21 705.68,687.52 707.10,687.81 708.44,688.09 709.72,688.36" fill="none" stroke="#A878EA" stroke-width="1.3"/>
<g><path d="M406.50,859.40L410.11,853.25H402.89Z" fill="#fff" stroke="#A878EA" stroke-width="1.3"/><path d="M423.72,859.29L427.33,853.13H420.11Z" fill="#fff" stroke="#A878EA" stroke-width="1.3"/><path d="M433.79,858.73L437.40,852.58H430.18Z" fill="#fff" stroke="#A878EA" stroke-width="1.3"/><path d="M440.94,857.40L444.55,851.24H437.33Z" fill="#fff" stroke="#A878EA" stroke-width="1.3"/><path d="M446.48,855.78L450.09,849.63H442.87Z" fill="#fff" stroke="#A878EA" stroke-width="1.3"/><path d="M451.01,854.28L454.62,848.12H447.40Z" fill="#fff" stroke="#A878EA" stroke-width="1.3"/><path d="M454.84,852.76L458.45,846.60H451.23Z" fill="#fff" stroke="#A878EA" stroke-width="1.3"/><path d="M458.16,851.23L461.77,845.07H454.55Z" fill="#fff" stroke="#A878EA" stroke-width="1.3"/><path d="M461.08,849.69L464.69,843.53H457.47Z" fill="#fff" stroke="#A878EA" stroke-width="1.3"/><path d="M463.70,848.15L467.31,841.99H460.09Z" fill="#fff" stroke="#A878EA" stroke-width="1.3"/><path d="M466.07,846.40L469.68,840.24H462.46Z" fill="#fff" stroke="#A878EA" stroke-width="1.3"/><path d="M468.23,844.43L471.84,838.27H464.62Z" fill="#fff" stroke="#A878EA" stroke-width="1.3"/><path d="M470.22,842.44L473.83,836.29H466.61Z" fill="#fff" stroke="#A878EA" stroke-width="1.3"/><path d="M472.06,840.54L475.67,834.39H468.45Z" fill="#fff" stroke="#A878EA" stroke-width="1.3"/><path d="M473.77,838.61L477.38,832.46H470.16Z" fill="#fff" stroke="#A878EA" stroke-width="1.3"/><path d="M475.38,836.69L478.99,830.53H471.77Z" fill="#fff" stroke="#A878EA" stroke-width="1.3"/><path d="M476.88,834.83L480.49,828.68H473.27Z" fill="#fff" stroke="#A878EA" stroke-width="1.3"/><path d="M478.30,833.10L481.91,826.94H474.69Z" fill="#fff" stroke="#A878EA" stroke-width="1.3"/><path d="M479.64,831.49L483.25,825.34H476.03Z" fill="#fff" stroke="#A878EA" stroke-width="1.3"/><path d="M480.92,829.96L484.53,823.81H477.31Z" fill="#fff" stroke="#A878EA" stroke-width="1.3"/><path d="M482.13,828.50L485.74,822.34H478.52Z" fill="#fff" stroke="#A878EA" stroke-width="1.3"/><path d="M483.29,827.11L486.90,820.95H479.68Z" fill="#fff" stroke="#A878EA" stroke-width="1.3"/><path d="M484.39,825.79L488.00,819.63H480.78Z" fill="#fff" stroke="#A878EA" stroke-width="1.3"/><path d="M485.45,824.54L489.06,818.38H481.84Z" fill="#fff" stroke="#A878EA" stroke-width="1.3"/><path d="M486.46,823.36L490.07,817.20H482.85Z" fill="#fff" stroke="#A878EA" stroke-width="1.3"/><path d="M487.44,822.25L491.05,816.09H483.83Z" fill="#fff" stroke="#A878EA" stroke-width="1.3"/><path d="M488.37,821.20L491.98,815.04H484.76Z" fill="#fff" stroke="#A878EA" stroke-width="1.3"/><path d="M489.28,820.18L492.89,814.03H485.67Z" fill="#fff" stroke="#A878EA" stroke-width="1.3"/><path d="M490.15,819.19L493.76,813.04H486.54Z" fill="#fff" stroke="#A878EA" stroke-width="1.3"/><path d="M490.99,818.21L494.60,812.06H487.38Z" fill="#fff" stroke="#A878EA" stroke-width="1.3"/><path d="M498.14,809.25L501.75,803.10H494.53Z" fill="#fff" stroke="#A878EA" stroke-width="1.3"/><path d="M503.68,802.37L507.29,796.21H500.07Z" fill="#fff" stroke="#A878EA" stroke-width="1.3"/><path d="M508.21,797.77L511.82,791.61H504.60Z" fill="#fff" stroke="#A878EA" stroke-width="1.3"/><path d="M512.04,793.96L515.65,787.80H508.43Z" fill="#fff" stroke="#A878EA" stroke-width="1.3"/><path d="M515.36,790.60L518.97,784.44H511.75Z" fill="#fff" stroke="#A878EA" stroke-width="1.3"/><path d="M518.28,787.70L521.89,781.55H514.67Z" fill="#fff" stroke="#A878EA" stroke-width="1.3"/><path d="M520.90,785.65L524.51,779.49H517.29Z" fill="#fff" stroke="#A878EA" stroke-width="1.3"/><path d="M523.27,784.10L526.88,777.94H519.66Z" fill="#fff" stroke="#A878EA" stroke-width="1.3"/><path d="M525.43,783.10L529.04,776.95H521.82Z" fill="#fff" stroke="#A878EA" stroke-width="1.3"/><path d="M527.42,782.38L531.03,776.22H523.81Z" fill="#fff" stroke="#A878EA" stroke-width="1.3"/><path d="M529.26,781.85L532.87,775.69H525.65Z" fill="#fff" stroke="#A878EA" stroke-width="1.3"/><path d="M530.97,781.48L534.58,775.33H527.36Z" fill="#fff" stroke="#A878EA" stroke-width="1.3"/><path d="M532.58,781.20L536.19,775.05H528.97Z" fill="#fff" stroke="#A878EA" stroke-width="1.3"/><path d="M534.08,780.98L537.69,774.82H530.47Z" fill="#fff" stroke="#A878EA" stroke-width="1.3"/><path d="M535.50,780.79L539.11,774.63H531.89Z" fill="#fff" stroke="#A878EA" stroke-width="1.3"/><path d="M536.84,780.63L540.45,774.47H533.23Z" fill="#fff" stroke="#A878EA" stroke-width="1.3"/><path d="M538.12,780.49L541.73,774.33H534.51Z" fill="#fff" stroke="#A878EA" stroke-width="1.3"/><path d="M539.33,780.38L542.94,774.22H535.72Z" fill="#fff" stroke="#A878EA" stroke-width="1.3"/><path d="M540.49,780.29L544.10,774.14H536.88Z" fill="#fff" stroke="#A878EA" stroke-width="1.3"/><path d="M541.59,780.23L545.20,774.07H537.98Z" fill="#fff" stroke="#A878EA" stroke-width="1.3"/><path d="M542.65,780.17L546.26,774.01H539.04Z" fill="#fff" stroke="#A878EA" stroke-width="1.3"/><path d="M543.66,780.10L547.27,773.95H540.05Z" fill="#fff" stroke="#A878EA" stroke-width="1.3"/><path d="M544.64,780.03L548.25,773.87H541.03Z" fill="#fff" stroke="#A878EA" stroke-width="1.3"/><path d="M545.57,779.94L549.18,773.79H541.96Z" fill="#fff" stroke="#A878EA" stroke-width="1.3"/><path d="M546.48,779.84L550.09,773.69H542.87Z" fill="#fff" stroke="#A878EA" stroke-width="1.3"/><path d="M547.35,779.72L550.96,773.57H543.74Z" fill="#fff" stroke="#A878EA" stroke-width="1.3"/><path d="M548.19,779.50L551.80,773.35H544.58Z" fill="#fff" stroke="#A878EA" stroke-width="1.3"/><path d="M555.34,772.65L558.95,766.50H551.73Z" fill="#fff" stroke="#A878EA" stroke-width="1.3"/><path d="M560.88,767.10L564.49,760.95H557.27Z" fill="#fff" stroke="#A878EA" stroke-width="1.3"/><path d="M565.41,761.46L569.02,755.30H561.80Z" fill="#fff" stroke="#A878EA" stroke-width="1.3"/><path d="M569.24,756.32L572.85,750.16H565.63Z" fill="#fff" stroke="#A878EA" stroke-width="1.3"/><path d="M572.56,751.96L576.17,745.80H568.95Z" fill="#fff" stroke="#A878EA" stroke-width="1.3"/><path d="M575.48,747.83L579.09,741.67H571.87Z" fill="#fff" stroke="#A878EA" stroke-width="1.3"/><path d="M578.10,743.84L581.71,737.68H574.49Z" fill="#fff" stroke="#A878EA" stroke-width="1.3"/><path d="M580.47,740.33L584.08,734.17H576.86Z" fill="#fff" stroke="#A878EA" stroke-width="1.3"/><path d="M582.63,737.28L586.24,731.12H579.02Z" fill="#fff" stroke="#A878EA" stroke-width="1.3"/><path d="M584.62,734.52L588.23,728.36H581.01Z" fill="#fff" stroke="#A878EA" stroke-width="1.3"/><path d="M586.46,731.96L590.07,725.80H582.85Z" fill="#fff" stroke="#A878EA" stroke-width="1.3"/><path d="M588.17,729.51L591.78,723.35H584.56Z" fill="#fff" stroke="#A878EA" stroke-width="1.3"/><path d="M589.78,727.15L593.39,720.99H586.17Z" fill="#fff" stroke="#A878EA" stroke-width="1.3"/><path d="M591.28,724.97L594.89,718.82H587.67Z" fill="#fff" stroke="#A878EA" stroke-width="1.3"/><path d="M592.70,723.04L596.31,716.89H589.09Z" fill="#fff" stroke="#A878EA" stroke-width="1.3"/><path d="M594.04,721.39L597.65,715.24H590.43Z" fill="#fff" stroke="#A878EA" stroke-width="1.3"/><path d="M595.32,719.92L598.93,713.76H591.71Z" fill="#fff" stroke="#A878EA" stroke-width="1.3"/><path d="M596.53,718.57L600.14,712.41H592.92Z" fill="#fff" stroke="#A878EA" stroke-width="1.3"/><path d="M597.69,717.33L601.30,711.17H594.08Z" fill="#fff" stroke="#A878EA" stroke-width="1.3"/><path d="M598.79,716.21L602.40,710.06H595.18Z" fill="#fff" stroke="#A878EA" stroke-width="1.3"/><path d="M599.85,715.21L603.46,709.05H596.24Z" fill="#fff" stroke="#A878EA" stroke-width="1.3"/><path d="M600.86,714.31L604.47,708.15H597.25Z" fill="#fff" stroke="#A878EA" stroke-width="1.3"/><path d="M601.84,713.52L605.45,707.36H598.23Z" fill="#fff" stroke="#A878EA" stroke-width="1.3"/><path d="M602.77,712.82L606.38,706.67H599.16Z" fill="#fff" stroke="#A878EA" stroke-width="1.3"/><path d="M603.68,712.21L607.29,706.06H600.07Z" fill="#fff" stroke="#A878EA" stroke-width="1.3"/><path d="M604.55,711.68L608.16,705.52H600.94Z" fill="#fff" stroke="#A878EA" stroke-width="1.3"/><path d="M605.39,711.22L609.00,705.06H601.78Z" fill="#fff" stroke="#A878EA" stroke-width="1.3"/><path d="M612.54,708.31L616.15,702.16H608.93Z" fill="#fff" stroke="#A878EA" stroke-width="1.3"/><path d="M618.08,706.80L621.69,700.64H614.47Z" fill="#fff" stroke="#A878EA" stroke-width="1.3"/><path d="M622.61,705.35L626.22,699.20H619.00Z" fill="#fff" stroke="#A878EA" stroke-width="1.3"/><path d="M626.44,701.63L630.05,695.48H622.83Z" fill="#fff" stroke="#A878EA" stroke-width="1.3"/><path d="M629.76,697.93L633.37,691.78H626.15Z" fill="#fff" stroke="#A878EA" stroke-width="1.3"/><path d="M632.68,694.68L636.29,688.52H629.07Z" fill="#fff" stroke="#A878EA" stroke-width="1.3"/><path d="M635.30,691.82L638.91,685.66H631.69Z" fill="#fff" stroke="#A878EA" stroke-width="1.3"/><path d="M637.67,689.77L641.28,683.61H634.06Z" fill="#fff" stroke="#A878EA" stroke-width="1.3"/><path d="M639.83,688.50L643.44,682.35H636.22Z" fill="#fff" stroke="#A878EA" stroke-width="1.3"/><path d="M641.82,687.47L645.43,681.32H638.21Z" fill="#fff" stroke="#A878EA" stroke-width="1.3"/><path d="M643.66,686.66L647.27,680.51H640.05Z" fill="#fff" stroke="#A878EA" stroke-width="1.3"/><path d="M645.37,686.08L648.98,679.93H641.76Z" fill="#fff" stroke="#A878EA" stroke-width="1.3"/><path d="M646.98,685.74L650.59,679.58H643.37Z" fill="#fff" stroke="#A878EA" stroke-width="1.3"/><path d="M648.48,685.58L652.09,679.42H644.87Z" fill="#fff" stroke="#A878EA" stroke-width="1.3"/><path d="M649.90,685.45L653.51,679.30H646.29Z" fill="#fff" stroke="#A878EA" stroke-width="1.3"/><path d="M651.24,685.35L654.85,679.19H647.63Z" fill="#fff" stroke="#A878EA" stroke-width="1.3"/><path d="M652.52,685.25L656.13,679.10H648.91Z" fill="#fff" stroke="#A878EA" stroke-width="1.3"/><path d="M653.73,685.17L657.34,679.02H650.12Z" fill="#fff" stroke="#A878EA" stroke-width="1.3"/><path d="M654.89,685.11L658.50,678.95H651.28Z" fill="#fff" stroke="#A878EA" stroke-width="1.3"/><path d="M655.99,685.05L659.60,678.89H652.38Z" fill="#fff" stroke="#A878EA" stroke-width="1.3"/><path d="M657.05,685.00L660.66,678.85H653.44Z" fill="#fff" stroke="#A878EA" stroke-width="1.3"/><path d="M658.06,684.96L661.67,678.81H654.45Z" fill="#fff" stroke="#A878EA" stroke-width="1.3"/><path d="M659.04,684.93L662.65,678.78H655.43Z" fill="#fff" stroke="#A878EA" stroke-width="1.3"/><path d="M659.97,684.91L663.58,678.75H656.36Z" fill="#fff" stroke="#A878EA" stroke-width="1.3"/><path d="M660.88,684.89L664.49,678.73H657.27Z" fill="#fff" stroke="#A878EA" stroke-width="1.3"/><path d="M661.75,684.88L665.36,678.72H658.14Z" fill="#fff" stroke="#A878EA" stroke-width="1.3"/><path d="M662.59,684.87L666.20,678.72H658.98Z" fill="#fff" stroke="#A878EA" stroke-width="1.3"/><path d="M669.74,685.28L673.35,679.13H666.13Z" fill="#fff" stroke="#A878EA" stroke-width="1.3"/><path d="M675.28,686.06L678.89,679.90H671.67Z" fill="#fff" stroke="#A878EA" stroke-width="1.3"/><path d="M679.81,686.81L683.42,680.65H676.20Z" fill="#fff" stroke="#A878EA" stroke-width="1.3"/><path d="M683.64,687.42L687.25,681.27H680.03Z" fill="#fff" stroke="#A878EA" stroke-width="1.3"/><path d="M686.96,687.92L690.57,681.77H683.35Z" fill="#fff" stroke="#A878EA" stroke-width="1.3"/><path d="M689.88,688.39L693.49,682.23H686.27Z" fill="#fff" stroke="#A878EA" stroke-width="1.3"/><path d="M692.50,688.83L696.11,682.67H688.89Z" fill="#fff" stroke="#A878EA" stroke-width="1.3"/><path d="M694.87,689.24L698.48,683.09H691.26Z" fill="#fff" stroke="#A878EA" stroke-width="1.3"/><path d="M697.03,689.63L700.64,683.48H693.42Z" fill="#fff" stroke="#A878EA" stroke-width="1.3"/><path d="M699.02,690.00L702.63,683.85H695.41Z" fill="#fff" stroke="#A878EA" stroke-width="1.3"/><path d="M700.86,690.36L704.47,684.20H697.25Z" fill="#fff" stroke="#A878EA" stroke-width="1.3"/><path d="M702.57,690.69L706.18,684.53H698.96Z" fill="#fff" stroke="#A878EA" stroke-width="1.3"/><path d="M704.18,691.01L707.79,684.85H700.57Z" fill="#fff" stroke="#A878EA" stroke-width="1.3"/><path d="M705.68,691.32L709.29,685.16H702.07Z" fill="#fff" stroke="#A878EA" stroke-width="1.3"/><path d="M707.10,691.61L710.71,685.45H703.49Z" fill="#fff" stroke="#A878EA" stroke-width="1.3"/><path d="M708.44,691.89L712.05,685.74H704.83Z" fill="#fff" stroke="#A878EA" stroke-width="1.3"/><path d="M709.72,692.16L713.33,686.01H706.11Z" fill="#fff" stroke="#A878EA" stroke-width="1.3"/></g>
<line x1="446.48" y1="843.0" x2="446.48" y2="867.2" stroke="#111" stroke-width="1.5" stroke-dasharray="3.4 7.95"/>
<line x1="538.12" y1="755.4" x2="538.12" y2="867.2" stroke="#111" stroke-width="1.5" stroke-dasharray="3.4 7.95"/>
<line x1="605.39" y1="689.5" x2="605.39" y2="867.2" stroke="#111" stroke-width="1.5" stroke-dasharray="3.4 7.95"/>
<line x1="662.59" y1="649.6" x2="662.59" y2="867.2" stroke="#111" stroke-width="1.5" stroke-dasharray="3.4 7.95"/>
<line x1="417.2" y1="623.00" x2="458.3" y2="623.00" stroke="#D49494" stroke-width="1.2"/>
<rect x="433.44" y="618.94" width="8.12" height="8.12" fill="#fff" stroke="#C0262B" stroke-width="1.5"/>
<line x1="417.2" y1="645.60" x2="458.3" y2="645.60" stroke="#E6F2E6" stroke-width="1.2"/>
<circle cx="437.50" cy="645.60" r="4.35" fill="#fff" stroke="#1FC21F" stroke-width="1.5"/>
<line x1="417.2" y1="668.20" x2="458.3" y2="668.20" stroke="#E2C3A8" stroke-width="1.2"/>
<path d="M437.50,662.69L442.73,671.62H432.27Z" fill="#fff" stroke="#E8A66C" stroke-width="1.5"/>
<line x1="417.2" y1="690.80" x2="458.3" y2="690.80" stroke="#EEE8F8" stroke-width="1.2"/>
<path d="M437.50,696.31L442.73,687.38H432.27Z" fill="#fff" stroke="#A878EA" stroke-width="1.5"/>
<text transform="translate(463.34,629.36) scale(0.1768,0.1851)" font-size="100" fill="#000">CK</text>
<text transform="translate(463.34,651.18) scale(0.1767,0.1688)" font-size="100" fill="#000">Cd5</text>
<text transform="translate(463.34,673.98) scale(0.1773,0.1688)" font-size="100" fill="#000">Cd+EtX1</text>
<text transform="translate(463.33,696.78) scale(0.1808,0.1688)" font-size="100" fill="#000">Cd+EtX10</text>
<text transform="translate(431.98,823.30) scale(0.1453,0.1466)" font-size="100" fill="#000">50 µs</text>
<text transform="translate(441.12,840.29) scale(0.1578,0.1642)" font-size="100" fill="#000">O</text>
<text transform="translate(521.06,734.58) scale(0.1766,0.1672)" font-size="100" fill="#000">2 ms</text>
<text transform="translate(534.84,751.89) scale(0.1543,0.1594)" font-size="100" fill="#000">J</text>
<text transform="translate(576.35,669.48) scale(0.1782,0.1719)" font-size="100" fill="#000">30 ms</text>
<text transform="translate(603.69,687.15) scale(0.1019,0.1527)" font-size="100" fill="#000">I</text>
<text transform="translate(641.35,630.37) scale(0.1771,0.1837)" font-size="100" fill="#000">300 ms</text>
<text transform="translate(659.47,646.65) scale(0.1608,0.1725)" font-size="100" fill="#000">P</text>
<polygon points="904.00,728.77 917.40,732.08 927.72,741.23 932.61,754.13 930.95,767.82 923.11,779.18 910.90,785.59 897.10,785.59 884.89,779.18 877.05,767.82 875.39,754.13 880.28,741.23 890.60,732.08" fill="none" stroke="#808080" stroke-width="1.0" stroke-dasharray="5 4"/>
<polygon points="904.00,699.95 930.79,706.55 951.45,724.85 961.23,750.65 957.90,778.04 942.23,800.75 917.80,813.57 890.20,813.57 865.77,800.75 850.10,778.04 846.77,750.65 856.55,724.85 877.21,706.55" fill="none" stroke="#808080" stroke-width="1.0" stroke-dasharray="5 4"/>
<polygon points="904.00,671.12 944.19,681.03 975.17,708.48 989.84,747.18 984.86,788.26 961.34,822.33 924.69,841.56 883.31,841.56 846.66,822.33 823.14,788.26 818.16,747.18 832.83,708.48 863.81,681.03" fill="none" stroke="#808080" stroke-width="1.0" stroke-dasharray="5 4"/>
<polygon points="904.00,642.30 957.58,655.51 998.89,692.10 1018.46,743.70 1011.81,798.49 980.46,843.90 931.59,869.55 876.41,869.55 827.54,843.90 796.19,798.49 789.54,743.70 809.11,692.10 850.42,655.51" fill="none" stroke="#808080" stroke-width="1.0" stroke-dasharray="5 4"/>
<line x1="904.0" y1="757.6" x2="904.00" y2="642.30" stroke="#1a1a1a" stroke-width="1.2"/>
<path d="M901.50,728.77L906.50,728.77M901.50,699.95L906.50,699.95M901.50,671.12L906.50,671.12M901.50,642.30L906.50,642.30" stroke="#333" stroke-width="0.8"/>
<line x1="904.0" y1="757.6" x2="957.58" y2="655.51" stroke="#1a1a1a" stroke-width="0.8"/>
<path d="M915.18,730.91L919.61,733.24M928.58,705.39L933.00,707.72M941.97,679.87L946.40,682.19M955.37,654.35L959.80,656.67" stroke="#333" stroke-width="0.8"/>
<line x1="904.0" y1="757.6" x2="998.89" y2="692.10" stroke="#1a1a1a" stroke-width="0.8"/>
<path d="M926.30,739.17L929.14,743.28M950.02,722.79L952.87,726.91M973.75,706.42L976.59,710.53M997.47,690.04L1000.31,694.16" stroke="#333" stroke-width="0.8"/>
<line x1="904.0" y1="757.6" x2="1018.46" y2="743.70" stroke="#1a1a1a" stroke-width="0.8" stroke-dasharray="3 2.5"/>
<path d="M932.31,751.64L932.92,756.61M960.93,748.17L961.53,753.13M989.54,744.69L990.15,749.66M1018.16,741.22L1018.76,746.18" stroke="#333" stroke-width="0.8"/>
<line x1="904.0" y1="757.6" x2="1011.81" y2="798.49" stroke="#1a1a1a" stroke-width="0.8" stroke-dasharray="2 2"/>
<path d="M931.84,765.48L930.07,770.16M958.79,775.71L957.02,780.38M985.74,785.93L983.97,790.60M1012.69,796.15L1010.92,800.82" stroke="#333" stroke-width="0.8"/>
<line x1="904.0" y1="757.6" x2="980.46" y2="843.90" stroke="#1a1a1a" stroke-width="0.8"/>
<path d="M924.99,777.52L921.24,780.83M944.10,799.09L940.36,802.41M963.21,820.67L959.47,823.99M982.33,842.25L978.59,845.56" stroke="#333" stroke-width="0.8"/>
<line x1="904.0" y1="757.6" x2="931.59" y2="869.55" stroke="#1a1a1a" stroke-width="0.8" stroke-dasharray="2.5 2"/>
<path d="M913.33,784.99L908.47,786.19M920.22,812.98L915.37,814.17M927.12,840.96L922.27,842.16M934.02,868.95L929.17,870.15" stroke="#333" stroke-width="0.8"/>
<line x1="904.0" y1="757.6" x2="876.41" y2="869.55" stroke="#1a1a1a" stroke-width="0.8" stroke-dasharray="2 2"/>
<path d="M899.53,786.19L894.67,784.99M892.63,814.17L887.78,812.98M885.73,842.16L880.88,840.96M878.83,870.15L873.98,868.95" stroke="#333" stroke-width="0.8"/>
<line x1="904.0" y1="757.6" x2="827.54" y2="843.90" stroke="#1a1a1a" stroke-width="0.8"/>
<path d="M886.76,780.83L883.01,777.52M867.64,802.41L863.90,799.09M848.53,823.99L844.79,820.67M829.41,845.56L825.67,842.25" stroke="#333" stroke-width="0.8"/>
<line x1="904.0" y1="757.6" x2="796.19" y2="798.49" stroke="#1a1a1a" stroke-width="0.8"/>
<path d="M877.93,770.16L876.16,765.48M850.98,780.38L849.21,775.71M824.03,790.60L822.26,785.93M797.08,800.82L795.31,796.15" stroke="#333" stroke-width="0.8"/>
<line x1="904.0" y1="757.6" x2="789.54" y2="743.70" stroke="#1a1a1a" stroke-width="0.8" stroke-dasharray="3.5 2.5"/>
<path d="M875.08,756.61L875.69,751.64M846.47,753.13L847.07,748.17M817.85,749.66L818.46,744.69M789.24,746.18L789.84,741.22" stroke="#333" stroke-width="0.8"/>
<line x1="904.0" y1="757.6" x2="809.11" y2="692.10" stroke="#1a1a1a" stroke-width="0.8"/>
<path d="M878.86,743.28L881.70,739.17M855.13,726.91L857.98,722.79M831.41,710.53L834.25,706.42M807.69,694.16L810.53,690.04" stroke="#333" stroke-width="0.8"/>
<line x1="904.0" y1="757.6" x2="850.42" y2="655.51" stroke="#1a1a1a" stroke-width="0.8"/>
<path d="M888.39,733.24L892.82,730.91M875.00,707.72L879.42,705.39M861.60,682.19L866.03,679.87M848.20,656.67L852.63,654.35" stroke="#333" stroke-width="0.8"/>
<polygon points="904.00,685.54 937.49,693.79 963.31,716.66 975.54,748.91 971.38,783.15 951.79,811.54 921.25,827.57 886.75,827.57 856.21,811.54 836.62,783.15 832.46,748.91 844.69,716.66 870.51,693.79" fill="none" stroke="#BE2A2A" stroke-width="1.9" stroke-linejoin="round"/>
<g><rect x="900.78" y="682.32" width="6.44" height="6.44" fill="#fff" stroke="#BE2A2A" stroke-width="1.4"/><rect x="934.27" y="690.57" width="6.44" height="6.44" fill="#fff" stroke="#BE2A2A" stroke-width="1.4"/><rect x="960.09" y="713.44" width="6.44" height="6.44" fill="#fff" stroke="#BE2A2A" stroke-width="1.4"/><rect x="972.32" y="745.69" width="6.44" height="6.44" fill="#fff" stroke="#BE2A2A" stroke-width="1.4"/><rect x="968.16" y="779.93" width="6.44" height="6.44" fill="#fff" stroke="#BE2A2A" stroke-width="1.4"/><rect x="948.57" y="808.32" width="6.44" height="6.44" fill="#fff" stroke="#BE2A2A" stroke-width="1.4"/><rect x="918.03" y="824.35" width="6.44" height="6.44" fill="#fff" stroke="#BE2A2A" stroke-width="1.4"/><rect x="883.53" y="824.35" width="6.44" height="6.44" fill="#fff" stroke="#BE2A2A" stroke-width="1.4"/><rect x="852.99" y="808.32" width="6.44" height="6.44" fill="#fff" stroke="#BE2A2A" stroke-width="1.4"/><rect x="833.40" y="779.93" width="6.44" height="6.44" fill="#fff" stroke="#BE2A2A" stroke-width="1.4"/><rect x="829.24" y="745.69" width="6.44" height="6.44" fill="#fff" stroke="#BE2A2A" stroke-width="1.4"/><rect x="841.47" y="713.44" width="6.44" height="6.44" fill="#fff" stroke="#BE2A2A" stroke-width="1.4"/><rect x="867.29" y="690.57" width="6.44" height="6.44" fill="#fff" stroke="#BE2A2A" stroke-width="1.4"/></g>
<polygon points="904.00,684.82 938.02,692.77 958.56,719.94 984.12,747.87 969.83,782.57 950.83,810.46 920.97,826.45 886.24,829.67 854.78,813.16 842.01,781.11 844.62,750.39 856.26,724.65 879.22,710.38" fill="none" stroke="#5AAEDF" stroke-width="1.9" stroke-linejoin="round"/>
<g><circle cx="904.00" cy="684.82" r="3.45" fill="#fff" stroke="#5AAEDF" stroke-width="1.4"/><circle cx="938.02" cy="692.77" r="3.45" fill="#fff" stroke="#5AAEDF" stroke-width="1.4"/><circle cx="958.56" cy="719.94" r="3.45" fill="#fff" stroke="#5AAEDF" stroke-width="1.4"/><circle cx="984.12" cy="747.87" r="3.45" fill="#fff" stroke="#5AAEDF" stroke-width="1.4"/><circle cx="969.83" cy="782.57" r="3.45" fill="#fff" stroke="#5AAEDF" stroke-width="1.4"/><circle cx="950.83" cy="810.46" r="3.45" fill="#fff" stroke="#5AAEDF" stroke-width="1.4"/><circle cx="920.97" cy="826.45" r="3.45" fill="#fff" stroke="#5AAEDF" stroke-width="1.4"/><circle cx="886.24" cy="829.67" r="3.45" fill="#fff" stroke="#5AAEDF" stroke-width="1.4"/><circle cx="854.78" cy="813.16" r="3.45" fill="#fff" stroke="#5AAEDF" stroke-width="1.4"/><circle cx="842.01" cy="781.11" r="3.45" fill="#fff" stroke="#5AAEDF" stroke-width="1.4"/><circle cx="844.62" cy="750.39" r="3.45" fill="#fff" stroke="#5AAEDF" stroke-width="1.4"/><circle cx="856.26" cy="724.65" r="3.45" fill="#fff" stroke="#5AAEDF" stroke-width="1.4"/><circle cx="879.22" cy="710.38" r="3.45" fill="#fff" stroke="#5AAEDF" stroke-width="1.4"/></g>
<polygon points="904.00,692.74 933.94,700.56 988.81,699.06 1007.01,745.09 984.65,788.19 963.25,824.49 924.44,840.51 887.79,823.37 858.84,808.57 850.77,777.79 862.51,752.56 878.50,740.00 904.00,757.60" fill="none" stroke="#33B033" stroke-width="1.9" stroke-linejoin="round"/>
<g><path d="M904.00,688.37L908.15,695.45H899.85Z" fill="#fff" stroke="#33B033" stroke-width="1.4"/><path d="M933.94,696.19L938.09,703.26H929.79Z" fill="#fff" stroke="#33B033" stroke-width="1.4"/><path d="M988.81,694.69L992.96,701.77H984.66Z" fill="#fff" stroke="#33B033" stroke-width="1.4"/><path d="M1007.01,740.72L1011.16,747.80H1002.86Z" fill="#fff" stroke="#33B033" stroke-width="1.4"/><path d="M984.65,783.82L988.80,790.90H980.50Z" fill="#fff" stroke="#33B033" stroke-width="1.4"/><path d="M963.25,820.12L967.41,827.19H959.10Z" fill="#fff" stroke="#33B033" stroke-width="1.4"/><path d="M924.44,836.14L928.59,843.22H920.28Z" fill="#fff" stroke="#33B033" stroke-width="1.4"/><path d="M887.79,819.00L891.94,826.08H883.64Z" fill="#fff" stroke="#33B033" stroke-width="1.4"/><path d="M858.84,804.20L862.99,811.28H854.69Z" fill="#fff" stroke="#33B033" stroke-width="1.4"/><path d="M850.77,773.42L854.92,780.50H846.62Z" fill="#fff" stroke="#33B033" stroke-width="1.4"/><path d="M862.51,748.19L866.66,755.27H858.36Z" fill="#fff" stroke="#33B033" stroke-width="1.4"/><path d="M878.50,735.63L882.65,742.71H874.35Z" fill="#fff" stroke="#33B033" stroke-width="1.4"/><path d="M904.00,753.23L908.15,760.31H899.85Z" fill="#fff" stroke="#33B033" stroke-width="1.4"/></g>
<polygon points="904.00,692.74 933.94,700.56 998.30,692.51 1002.72,745.61 988.90,789.80 966.41,828.05 925.56,845.06 887.79,823.37 859.08,808.30 847.40,779.07 858.93,752.13 878.50,740.00 904.00,757.60" fill="none" stroke="#D8AA7A" stroke-width="1.9" stroke-linejoin="round"/>
<g><path d="M904.00,697.11L908.15,690.03H899.85Z" fill="#fff" stroke="#D8AA7A" stroke-width="1.4"/><path d="M933.94,704.93L938.09,697.85H929.79Z" fill="#fff" stroke="#D8AA7A" stroke-width="1.4"/><path d="M998.30,696.88L1002.45,689.80H994.15Z" fill="#fff" stroke="#D8AA7A" stroke-width="1.4"/><path d="M1002.72,749.98L1006.87,742.90H998.57Z" fill="#fff" stroke="#D8AA7A" stroke-width="1.4"/><path d="M988.90,794.17L993.05,787.09H984.75Z" fill="#fff" stroke="#D8AA7A" stroke-width="1.4"/><path d="M966.41,832.42L970.56,825.34H962.26Z" fill="#fff" stroke="#D8AA7A" stroke-width="1.4"/><path d="M925.56,849.43L929.71,842.35H921.41Z" fill="#fff" stroke="#D8AA7A" stroke-width="1.4"/><path d="M887.79,827.74L891.94,820.66H883.64Z" fill="#fff" stroke="#D8AA7A" stroke-width="1.4"/><path d="M859.08,812.67L863.23,805.59H854.93Z" fill="#fff" stroke="#D8AA7A" stroke-width="1.4"/><path d="M847.40,783.44L851.55,776.36H843.25Z" fill="#fff" stroke="#D8AA7A" stroke-width="1.4"/><path d="M858.93,756.50L863.08,749.42H854.78Z" fill="#fff" stroke="#D8AA7A" stroke-width="1.4"/><path d="M878.50,744.37L882.65,737.29H874.35Z" fill="#fff" stroke="#D8AA7A" stroke-width="1.4"/><path d="M904.00,761.97L908.15,754.89H899.85Z" fill="#fff" stroke="#D8AA7A" stroke-width="1.4"/></g>
<text transform="translate(869.55,644.59) scale(0.1651,0.1570)" font-size="100" fill="#000">160</text>
<text transform="translate(870.18,673.99) scale(0.1607,0.1556)" font-size="100" fill="#000">120</text>
<text transform="translate(878.21,704.00) scale(0.1609,0.1452)" font-size="100" fill="#000">80</text>
<text transform="translate(877.01,732.12) scale(0.1681,0.1333)" font-size="100" fill="#000">40</text>
<text transform="translate(885.37,761.20) scale(0.1690,0.1481)" font-size="100" fill="#000">0</text>
<text transform="translate(898.09,636.95) scale(0.1868,0.1740)" font-size="100" fill="#000">Fm</text>
<text transform="translate(958.73,649.79) scale(0.1717,0.1579)" font-size="100" fill="#000">Fv</text>
<text transform="translate(1006.99,694.64) scale(0.1895,0.1380)" font-size="100" fill="#000">dVG/dto</text>
<text transform="translate(1020.99,748.64) scale(0.1893,0.1380)" font-size="100" fill="#000">dV/dto</text>
<text transform="translate(1015.86,808.36) scale(0.1860,0.1866)" font-size="100" fill="#000">ABS/RC</text>
<text transform="translate(984.39,864.85) scale(0.1867,0.1970)" font-size="100" fill="#000">DIo/RC</text>
<text transform="translate(917.38,889.46) scale(0.1858,0.1851)" font-size="100" fill="#000">TRo/RC</text>
<text transform="translate(829.56,892.26) scale(0.1902,0.1925)" font-size="100" fill="#000">ABS/CSo</text>
<text transform="translate(760.66,862.16) scale(0.1855,0.1925)" font-size="100" fill="#000">ABS/CSm</text>
<text transform="translate(720.48,810.76) scale(0.1902,0.1925)" font-size="100" fill="#000">ETo/CSm</text>
<text transform="translate(739.89,749.57) scale(0.1863,0.1830)" font-size="100" fill="#000">PI abs</text>
<text transform="translate(749.30,688.66) scale(0.1847,0.1858)" font-size="100" fill="#000">PI total</text>
<text transform="translate(786.17,649.76) scale(0.1926,0.1872)" font-size="100" fill="#000">DF Total</text>
<line x1="995" y1="610.00" x2="1029.4" y2="610.00" stroke="#BE2A2A" stroke-width="1.6"/>
<rect x="1009.26" y="607.06" width="5.88" height="5.88" fill="#fff" stroke="#BE2A2A" stroke-width="1.3"/>
<line x1="995" y1="628.50" x2="1029.4" y2="628.50" stroke="#5AAEDF" stroke-width="1.6"/>
<circle cx="1012.20" cy="628.50" r="3.15" fill="#fff" stroke="#5AAEDF" stroke-width="1.3"/>
<line x1="995" y1="647.00" x2="1029.4" y2="647.00" stroke="#33B033" stroke-width="1.6"/>
<path d="M1012.20,643.01L1015.99,649.47H1008.41Z" fill="#fff" stroke="#33B033" stroke-width="1.3"/>
<line x1="995" y1="665.50" x2="1029.4" y2="665.50" stroke="#D8AA7A" stroke-width="1.6"/>
<path d="M1012.20,669.49L1015.99,663.03H1008.41Z" fill="#fff" stroke="#D8AA7A" stroke-width="1.3"/>
<text transform="translate(1032.49,614.42) scale(0.1393,0.1269)" font-size="100" fill="#000">CK</text>
<text transform="translate(1032.47,633.22) scale(0.1445,0.1277)" font-size="100" fill="#000">Cd5</text>
<text transform="translate(1032.47,651.52) scale(0.1447,0.1277)" font-size="100" fill="#000">Cd+EtX1</text>
<text transform="translate(1032.46,669.72) scale(0.1484,0.1262)" font-size="100" fill="#000">Cd+EtX10</text>
</svg></body></html>
